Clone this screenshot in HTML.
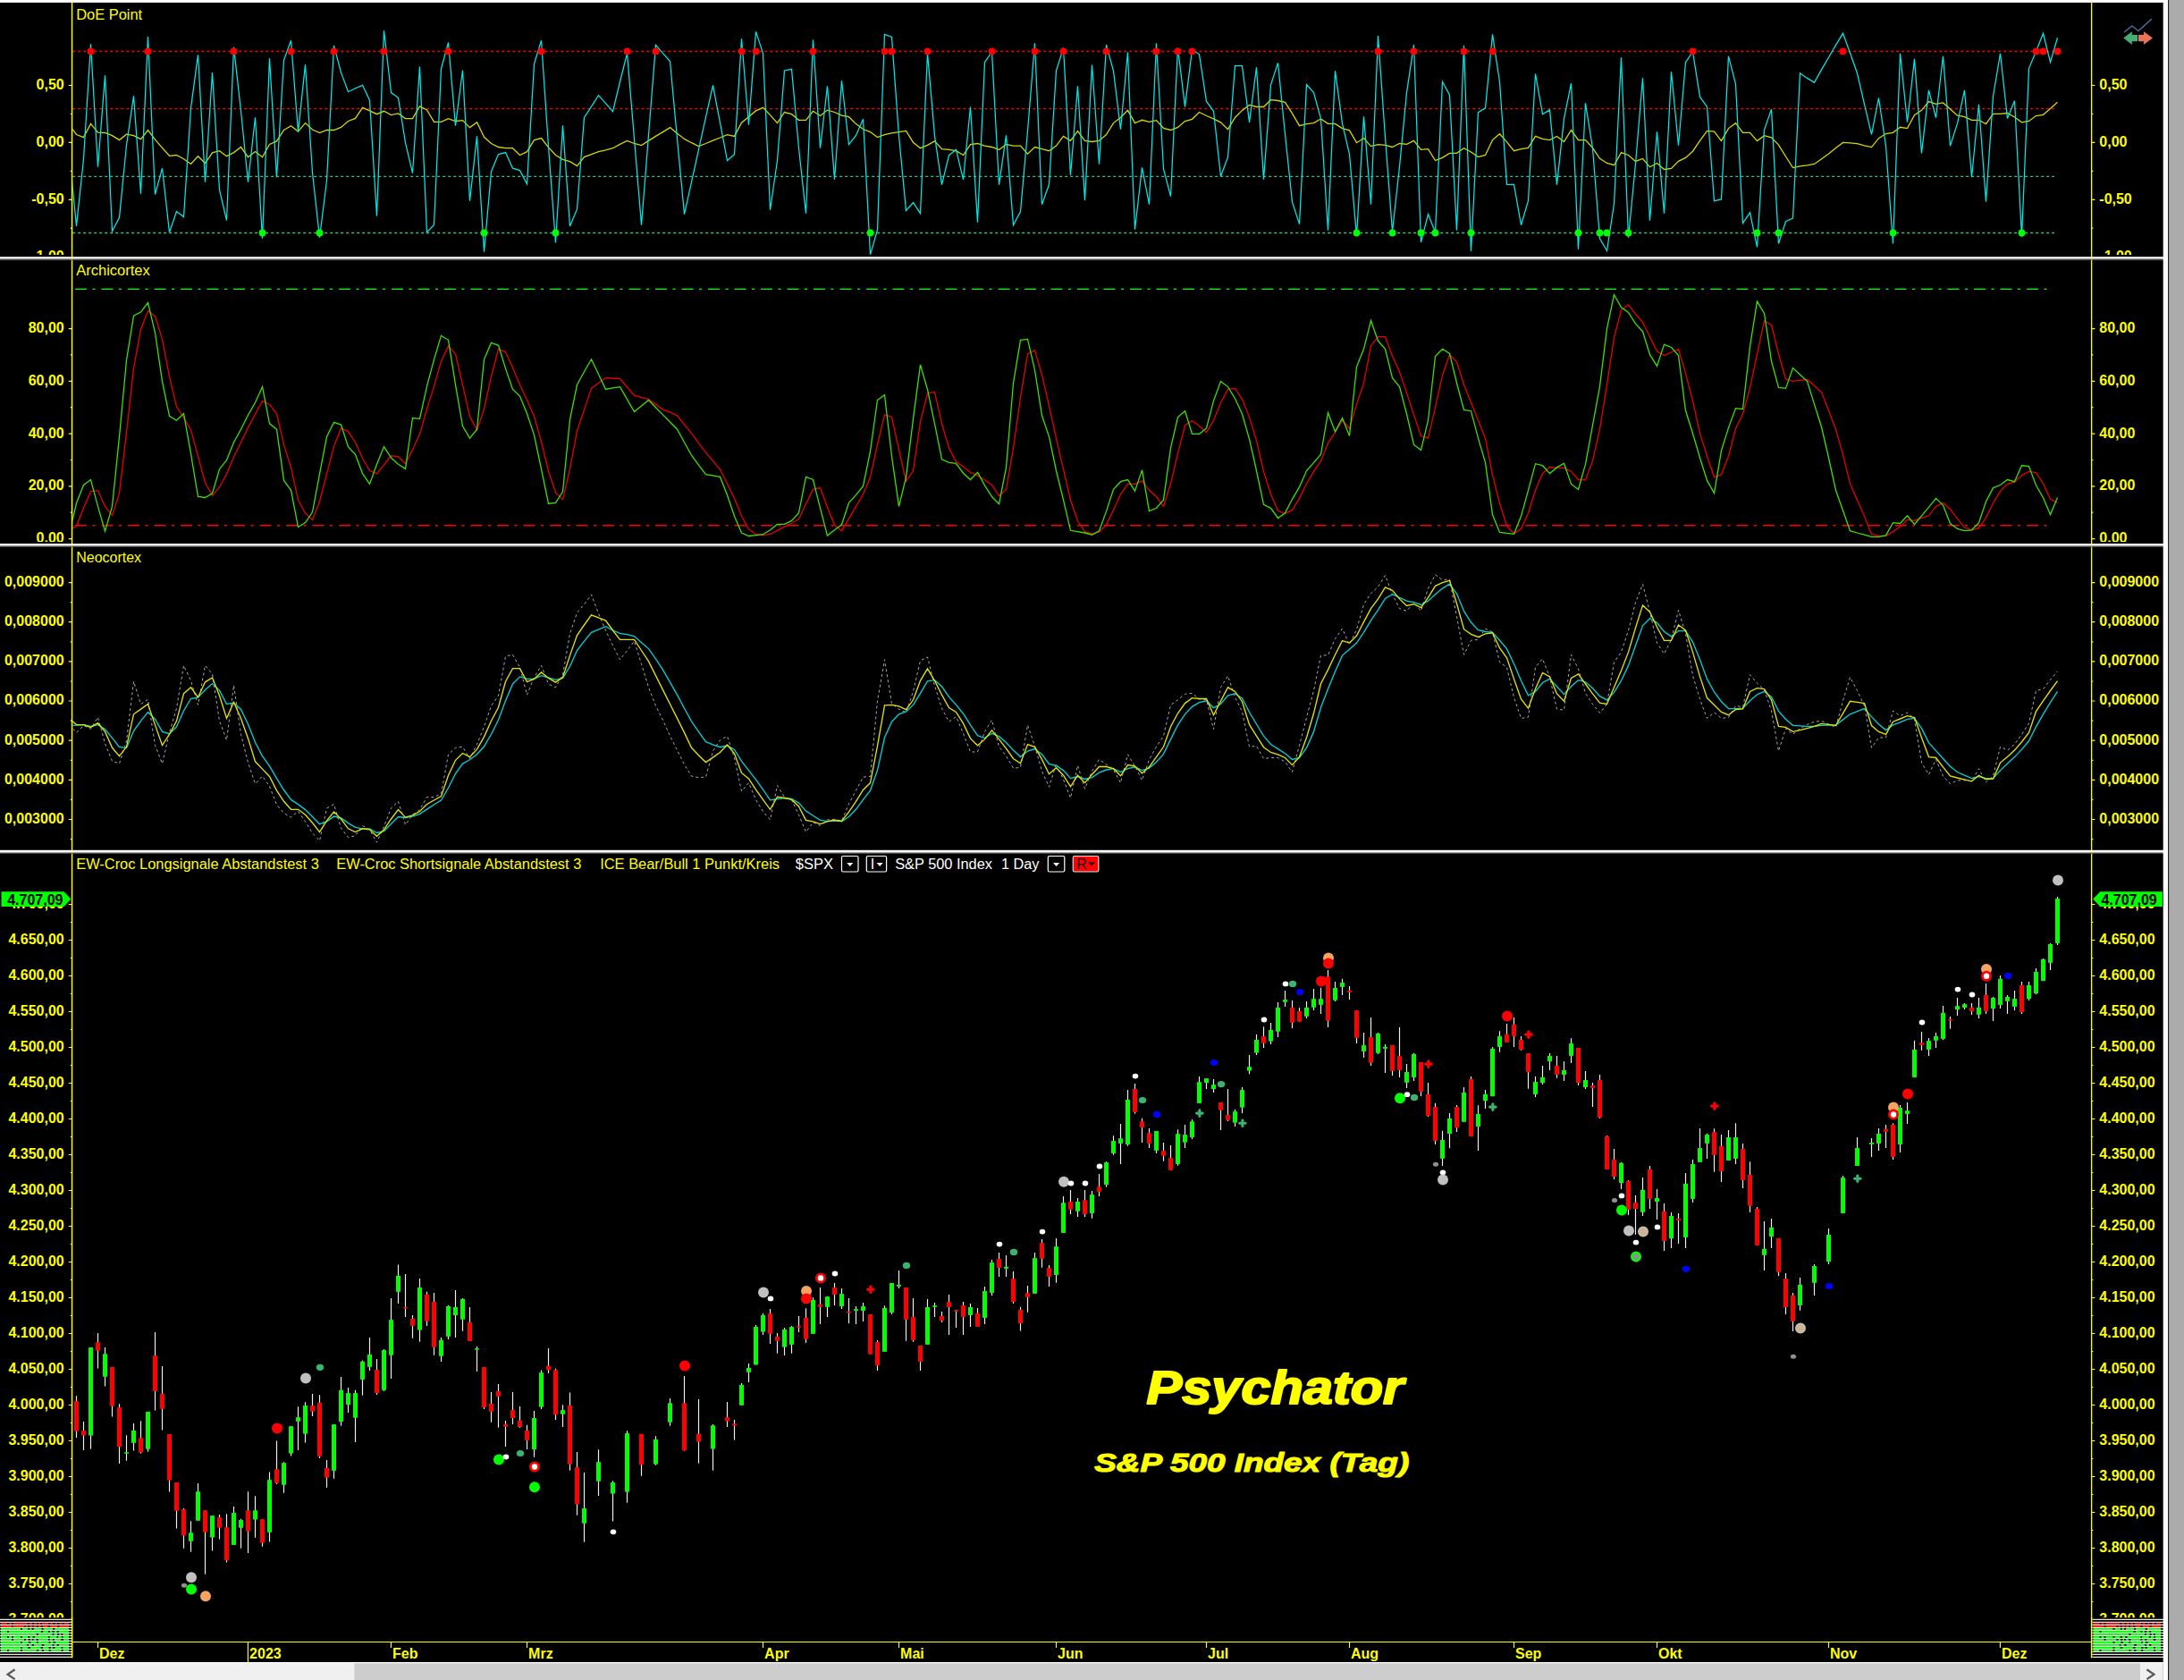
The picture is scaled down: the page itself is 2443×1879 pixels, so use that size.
<!DOCTYPE html><html><head><meta charset="utf-8"><title>Psychator S&amp;P 500 Index (Tag)</title>
<style>html,body{margin:0;padding:0;background:#000;overflow:hidden}svg{display:block}text{font-family:"Liberation Sans",Arial,sans-serif}.lb{font-weight:bold;font-size:16px;fill:#ff0}.tt{font-size:16px;fill:#ff0}.wt{font-size:16px;fill:#fff}.ax{stroke:#ff0;stroke-width:1.3;fill:none}.tk{stroke:#ff0;stroke-width:1.2;fill:none}</style></head><body>
<svg width="2443" height="1879" viewBox="0 0 2443 1879">
<rect x="0" y="0" width="2443" height="1879" fill="#000"/>
<defs>
<clipPath id="c1"><rect x="81.2" y="3" width="2258.0" height="284"/></clipPath>
<clipPath id="c2"><rect x="81.2" y="290.5" width="2258.0" height="317.5"/></clipPath>
<clipPath id="c3"><rect x="81.2" y="611.5" width="2258.0" height="339.5"/></clipPath>
<clipPath id="c4"><rect x="81.2" y="954.5" width="2258.0" height="881.5"/></clipPath>
<clipPath id="l1"><rect x="0" y="3" width="2420" height="281.9"/></clipPath>
<clipPath id="l2"><rect x="0" y="290.5" width="2420" height="315.5"/></clipPath>
<clipPath id="l3"><rect x="0" y="611.5" width="2420" height="337.29999999999995"/></clipPath>
<clipPath id="l4"><rect x="0" y="954.5" width="2420" height="854.8"/></clipPath>
</defs>
<path d="M81.2 57.5H2298M81.2 121.6H2298" stroke="#f00" stroke-width="1.4" stroke-dasharray="3 3" fill="none"/>
<path d="M81.2 197.4H2298M81.2 260.5H2298" stroke="#3fc07a" stroke-width="1.4" stroke-dasharray="3 3" fill="none"/>
<polyline clip-path="url(#c1)" points="77.5,139.8 85.5,150.5 93.5,153.6 101.5,138.4 109.5,148.1 117.5,148.5 125.5,151.6 133.5,156.6 141.5,150.2 149.5,151.6 157.5,155.7 165.5,145.5 173.5,156.2 181.5,165.4 189.5,174.3 197.5,173.5 205.5,177.8 213.5,183.5 221.5,174.7 229.5,182.5 237.5,170.9 245.5,168.7 253.5,174.7 261.5,170.6 269.5,164.5 277.5,175.7 285.5,169.5 293.5,175.7 301.5,161.4 309.5,157.9 317.5,145.5 325.5,140.7 333.5,147.1 341.5,137.6 349.5,145 357.5,148.5 365.5,145.5 373.5,145.5 381.5,142.4 389.5,135.5 397.5,132.4 405.5,120.3 413.5,123.9 421.5,127.7 429.5,124.3 437.5,128.6 445.5,126.9 453.5,132.6 461.5,132.6 469.5,118.8 477.5,122.9 485.5,136.4 493.5,136.4 501.5,132.6 509.5,135.5 517.5,134.6 525.5,142.6 533.5,136.7 541.5,153.3 549.5,160.5 557.5,164.5 565.5,165.7 573.5,165.7 581.5,173.5 589.5,169.7 597.5,156.6 605.5,154.5 613.5,164.9 621.5,173.5 629.5,178.3 637.5,180.7 645.5,185.6 653.5,175.6 661.5,172.6 669.5,169.7 677.5,167.8 685.5,165.7 693.5,161.4 701.5,157.4 709.5,160.5 717.5,162.6 725.5,157.4 733.5,152.4 741.5,147.6 749.5,142.6 757.5,149.3 765.5,155.4 773.5,159.7 781.5,163.6 789.5,160.5 797.5,157.1 805.5,154 813.5,150.7 821.5,152.4 829.5,137.2 837.5,130.7 845.5,123.9 853.5,120.3 861.5,128.6 869.5,137.6 877.5,125.5 885.5,127.7 893.5,134.3 901.5,134.3 909.5,124.3 917.5,129.5 925.5,123.1 933.5,125.5 941.5,129.1 949.5,130.7 957.5,138.6 965.5,144.5 973.5,147.6 981.5,153.6 989.5,150.7 997.5,148.8 1005.5,147.6 1013.5,146.4 1021.5,159.2 1029.5,165.7 1037.5,162.3 1045.5,157.9 1053.5,166.6 1061.5,167.4 1069.5,168.7 1077.5,173.5 1085.5,161.7 1093.5,160.5 1101.5,163.1 1109.5,164.5 1117.5,167.4 1125.5,161.4 1133.5,163.1 1141.5,163.1 1149.5,172.1 1157.5,164.5 1165.5,166.6 1173.5,168.7 1181.5,163.1 1189.5,152.4 1197.5,157.4 1205.5,146.7 1213.5,157.4 1221.5,158.5 1229.5,157.4 1237.5,150.5 1245.5,137.6 1253.5,131.5 1261.5,123.4 1269.5,137.6 1277.5,134.3 1285.5,136.4 1293.5,134.6 1301.5,143.3 1309.5,145.5 1317.5,142.4 1325.5,135.5 1333.5,133.3 1341.5,125.5 1349.5,129.5 1357.5,132.9 1365.5,136.9 1373.5,144.7 1381.5,131.5 1389.5,123.4 1397.5,117.4 1405.5,119.5 1413.5,119.5 1421.5,111.7 1429.5,112.5 1437.5,114.3 1445.5,126.9 1453.5,140.7 1461.5,138.6 1469.5,137.6 1477.5,132.9 1485.5,138.4 1493.5,138.4 1501.5,143.6 1509.5,145.9 1517.5,159.7 1525.5,154.5 1533.5,163.6 1541.5,161.7 1549.5,162.3 1557.5,164.5 1565.5,160.5 1573.5,161.4 1581.5,157.4 1589.5,167.4 1597.5,166.6 1605.5,179.5 1613.5,176.4 1621.5,171.4 1629.5,171.4 1637.5,165.7 1645.5,170 1653.5,175.6 1661.5,173.5 1669.5,156.6 1677.5,149.7 1685.5,158.8 1693.5,168.7 1701.5,166.6 1709.5,165.4 1717.5,152.4 1725.5,155.4 1733.5,156.6 1741.5,152.4 1749.5,158.5 1757.5,145.5 1765.5,156.6 1773.5,156.6 1781.5,165.4 1789.5,177.3 1797.5,182.5 1805.5,184.7 1813.5,170.6 1821.5,173.5 1829.5,180.4 1837.5,177.5 1845.5,186.8 1853.5,182.5 1861.5,189.5 1869.5,188.5 1877.5,180.4 1885.5,176.4 1893.5,169.2 1901.5,157.4 1909.5,146.4 1917.5,147.2 1925.5,157.6 1933.5,143.6 1941.5,137.7 1949.5,148.4 1957.5,148.4 1965.5,157.6 1973.5,151.7 1981.5,153.8 1989.5,162.1 1997.5,175 2005.5,187.6 2013.5,185.8 2021.5,184.9 2029.5,183.5 2037.5,177.7 2045.5,172 2053.5,165.5 2061.5,159.4 2069.5,159.8 2077.5,160.7 2085.5,162.8 2093.5,164.6 2101.5,154.7 2109.5,149.5 2117.5,148.3 2125.5,142.3 2133.5,143.6 2141.5,128.7 2149.5,123.3 2157.5,113.6 2165.5,116.3 2173.5,114.9 2181.5,122.1 2189.5,129.2 2197.5,130.7 2205.5,134.3 2213.5,134.3 2221.5,138.6 2229.5,127.4 2237.5,127.4 2245.5,126.5 2253.5,131 2261.5,136.8 2269.5,135.5 2277.5,129.6 2285.5,128.3 2293.5,121.5 2301.5,114.3" fill="none" stroke="#d6d600" stroke-width="1.3" stroke-linejoin="miter" />
<polyline clip-path="url(#c1)" points="77.5,172.1 85.5,252.9 93.5,177.8 101.5,49.2 109.5,186.8 117.5,84.2 125.5,258.6 133.5,243.4 141.5,162.3 149.5,107.4 157.5,216.6 165.5,41.1 173.5,217.5 181.5,188.2 189.5,259.8 197.5,236.5 205.5,242.5 213.5,120.8 221.5,61.3 229.5,203.7 237.5,81.1 245.5,212.3 253.5,246.5 261.5,52.6 269.5,124.3 277.5,203.7 285.5,131.2 293.5,266.7 301.5,65.3 309.5,198.5 317.5,67.3 325.5,45.2 333.5,147.6 341.5,72.2 349.5,193.3 357.5,265.8 365.5,202 373.5,50.9 381.5,81.1 389.5,102.7 397.5,98.7 405.5,95.3 413.5,112.2 421.5,241.7 429.5,34.2 437.5,103.6 445.5,109.3 453.5,159.7 461.5,193.7 469.5,74.6 477.5,259.8 485.5,251.5 493.5,76.8 501.5,47.5 509.5,140.7 517.5,78.5 525.5,224.8 533.5,152.4 541.5,281.7 549.5,192 557.5,172.6 565.5,170.6 573.5,188.2 581.5,190.6 589.5,205.8 597.5,71.6 605.5,45.2 613.5,164 621.5,271.5 629.5,140.2 637.5,252.9 645.5,233.9 653.5,131.5 661.5,119.1 669.5,106.7 677.5,115.7 685.5,124.6 693.5,91.5 701.5,59.6 709.5,155.4 717.5,251.7 725.5,151 733.5,50.4 741.5,59.6 749.5,68.5 757.5,155.4 765.5,239.6 773.5,203.7 781.5,167.4 789.5,131.2 797.5,95.3 805.5,137.4 813.5,179.5 821.5,172.6 829.5,43.2 837.5,139.8 845.5,35.4 853.5,59.6 861.5,234.8 869.5,179.5 877.5,78.9 885.5,77.3 893.5,165.7 901.5,238.7 909.5,44.5 917.5,165.7 925.5,96.3 933.5,200.8 941.5,90.3 949.5,161.7 957.5,151.4 965.5,133.3 973.5,284.8 981.5,257.2 989.5,38.3 997.5,41.4 1005.5,151.9 1013.5,235.6 1021.5,226.5 1029.5,238.7 1037.5,59.6 1045.5,151.9 1053.5,206.6 1061.5,173.5 1069.5,167.4 1077.5,200.8 1085.5,119.5 1093.5,248.6 1101.5,69.6 1109.5,57.8 1117.5,206.6 1125.5,151.4 1133.5,251.7 1141.5,236.5 1149.5,146.7 1157.5,48.3 1165.5,228.7 1173.5,206.3 1181.5,79.1 1189.5,53.5 1197.5,195.9 1205.5,96.3 1213.5,224.1 1221.5,72.5 1229.5,183.8 1237.5,50.1 1245.5,79.4 1253.5,144.7 1261.5,58.3 1269.5,256.7 1277.5,187.3 1285.5,228.7 1293.5,48.3 1301.5,189 1309.5,219.7 1317.5,53.5 1325.5,119.6 1333.5,55.2 1341.5,60.8 1349.5,113.4 1357.5,124.3 1365.5,197.3 1373.5,175.6 1381.5,73.7 1389.5,73.7 1397.5,136.9 1405.5,75.4 1413.5,200.6 1421.5,94.9 1429.5,70.4 1437.5,150.2 1445.5,226.1 1453.5,250.6 1461.5,94.6 1469.5,103.6 1477.5,132.9 1485.5,257.7 1493.5,79.4 1501.5,138.1 1509.5,172.6 1517.5,264.1 1525.5,130.3 1533.5,228.7 1541.5,40 1549.5,153.6 1557.5,258.9 1565.5,186.4 1573.5,103.6 1581.5,50.1 1589.5,271 1597.5,239.6 1605.5,259.8 1613.5,91.5 1621.5,106.2 1629.5,257.7 1637.5,50.9 1645.5,281 1653.5,125.7 1661.5,120.8 1669.5,38.3 1677.5,91.5 1685.5,206.3 1693.5,206.3 1701.5,251.7 1709.5,224.4 1717.5,82.5 1725.5,127.7 1733.5,122.9 1741.5,206.6 1749.5,132.9 1757.5,93.2 1765.5,278.8 1773.5,115.3 1781.5,165.7 1789.5,266.7 1797.5,280.5 1805.5,227.9 1813.5,64.2 1821.5,265.8 1829.5,183 1837.5,87.2 1845.5,246.8 1853.5,147.2 1861.5,238.7 1869.5,80.3 1877.5,162.8 1885.5,69.6 1893.5,57.8 1901.5,108.4 1909.5,119.5 1917.5,224.7 1925.5,222.9 1933.5,62.8 1941.5,94.2 1949.5,249.5 1957.5,237.8 1965.5,276.4 1973.5,145.4 1981.5,122.1 1989.5,272.5 1997.5,247.7 2005.5,244.1 2013.5,82 2021.5,87.4 2029.5,92.4 2037.5,77.9 2045.5,64.3 2053.5,50.4 2061.5,37.3 2069.5,59.2 2077.5,82 2085.5,116.7 2093.5,150.4 2101.5,109.5 2109.5,163.3 2117.5,272.5 2125.5,59.8 2133.5,136.8 2141.5,65.9 2149.5,171.4 2157.5,100.9 2165.5,131.6 2173.5,62.8 2181.5,163.3 2189.5,138.2 2197.5,100.9 2205.5,198.3 2213.5,116.7 2221.5,225.6 2229.5,107.7 2237.5,59.8 2245.5,132.5 2253.5,112.7 2261.5,264.8 2269.5,76.6 2277.5,57.4 2285.5,37.3 2293.5,69.6 2301.5,42.2" fill="none" stroke="#00e8e8" stroke-width="1.25" stroke-linejoin="miter" />
<g fill="#f00"><circle cx="101.5" cy="57.5" r="3.9"/><circle cx="165.5" cy="57.5" r="3.9"/><circle cx="261.5" cy="57.5" r="3.9"/><circle cx="325.5" cy="57.5" r="3.9"/><circle cx="373.5" cy="57.5" r="3.9"/><circle cx="429.5" cy="57.5" r="3.9"/><circle cx="501.5" cy="57.5" r="3.9"/><circle cx="605.5" cy="57.5" r="3.9"/><circle cx="701.5" cy="57.5" r="3.9"/><circle cx="733.5" cy="57.5" r="3.9"/><circle cx="829.5" cy="57.5" r="3.9"/><circle cx="845.5" cy="57.5" r="3.9"/><circle cx="909.5" cy="57.5" r="3.9"/><circle cx="989.5" cy="57.5" r="3.9"/><circle cx="997.5" cy="57.5" r="3.9"/><circle cx="1037.5" cy="57.5" r="3.9"/><circle cx="1109.5" cy="57.5" r="3.9"/><circle cx="1157.5" cy="57.5" r="3.9"/><circle cx="1189.5" cy="57.5" r="3.9"/><circle cx="1237.5" cy="57.5" r="3.9"/><circle cx="1293.5" cy="57.5" r="3.9"/><circle cx="1317.5" cy="57.5" r="3.9"/><circle cx="1333.5" cy="57.5" r="3.9"/><circle cx="1541.5" cy="57.5" r="3.9"/><circle cx="1581.5" cy="57.5" r="3.9"/><circle cx="1637.5" cy="57.5" r="3.9"/><circle cx="1669.5" cy="57.5" r="3.9"/><circle cx="1893.5" cy="57.5" r="3.9"/><circle cx="2061.5" cy="57.5" r="3.9"/><circle cx="2277.5" cy="57.5" r="3.9"/><circle cx="2285.5" cy="57.5" r="3.9"/><circle cx="2301.5" cy="57.5" r="3.9"/></g>
<g fill="#0f0"><circle cx="293.5" cy="260.5" r="3.9"/><circle cx="357.5" cy="260.5" r="3.9"/><circle cx="541.5" cy="260.5" r="3.9"/><circle cx="621.5" cy="260.5" r="3.9"/><circle cx="973.5" cy="260.5" r="3.9"/><circle cx="1517.5" cy="260.5" r="3.9"/><circle cx="1557.5" cy="260.5" r="3.9"/><circle cx="1589.5" cy="260.5" r="3.9"/><circle cx="1605.5" cy="260.5" r="3.9"/><circle cx="1645.5" cy="260.5" r="3.9"/><circle cx="1765.5" cy="260.5" r="3.9"/><circle cx="1789.5" cy="260.5" r="3.9"/><circle cx="1797.5" cy="260.5" r="3.9"/><circle cx="1821.5" cy="260.5" r="3.9"/><circle cx="1965.5" cy="260.5" r="3.9"/><circle cx="1989.5" cy="260.5" r="3.9"/><circle cx="2117.5" cy="260.5" r="3.9"/><circle cx="2261.5" cy="260.5" r="3.9"/></g>
<g clip-path="url(#l1)">
<text class="lb" x="71.7" y="99.9" text-anchor="end">0,50</text>
<text class="lb" x="2348.3" y="99.9">0,50</text>
<text class="lb" x="71.7" y="163.8" text-anchor="end">0,00</text>
<text class="lb" x="2348.3" y="163.8">0,00</text>
<text class="lb" x="71.7" y="227.7" text-anchor="end">-0,50</text>
<text class="lb" x="2348.3" y="227.7">-0,50</text>
<text class="lb" x="71.7" y="291.6" text-anchor="end">-1,00</text>
<text class="lb" x="2348.3" y="291.6">-1,00</text>
</g>
<g clip-path="url(#l1)">
<path class="tk" d="M76.8 95.5H80.6M2339.9 95.5H2343.4M76.8 159.4H80.6M2339.9 159.4H2343.4M76.8 223.3H80.6M2339.9 223.3H2343.4M76.8 287.2H80.6M2339.9 287.2H2343.4M78.8 127.5H80.6M2339.9 127.5H2341.4M78.8 191.3H80.6M2339.9 191.3H2341.4M78.8 255.2H80.6M2339.9 255.2H2341.4"/></g>
<text class="tt" x="85.2" y="21.6" textLength="74" lengthAdjust="spacingAndGlyphs">DoE Point</text>
<path d="M84 323.4H2295" stroke="#0f0" stroke-width="1.4" stroke-dasharray="13 6.5 3 7" fill="none"/>
<path d="M84 587.8H2295" stroke="#f00" stroke-width="1.4" stroke-dasharray="13 6.5 3 7" fill="none"/>
<polyline clip-path="url(#c2)" points="77.5,592.8 85.5,588.2 93.5,568.3 101.5,549.7 109.5,548.6 117.5,566.4 125.5,576.4 133.5,551.9 141.5,483.8 149.5,412.1 157.5,368.5 165.5,347.7 173.5,353.7 181.5,379.4 189.5,421.2 197.5,454.8 205.5,467.1 213.5,480.7 221.5,510.2 229.5,540.1 237.5,554.1 245.5,544.7 253.5,530.1 261.5,511.1 269.5,494.7 277.5,478.4 285.5,463.3 293.5,448.4 301.5,452.4 309.5,462.6 317.5,497.4 325.5,522.9 333.5,559.2 341.5,574.2 349.5,581.3 357.5,561 365.5,530.1 373.5,499.3 381.5,478.9 389.5,482.6 397.5,494.7 405.5,512.5 413.5,526.5 421.5,529.6 429.5,519.8 437.5,509.8 445.5,510.7 453.5,518.7 461.5,502.9 469.5,485.6 477.5,457.5 485.5,432.1 493.5,403.9 501.5,387.1 509.5,395.8 517.5,430.3 525.5,465.7 533.5,481.1 541.5,457.5 549.5,421.2 557.5,390.7 565.5,393.6 573.5,411.2 581.5,430.3 589.5,447.5 597.5,465.7 605.5,493.8 613.5,526.9 621.5,551 629.5,558.6 637.5,524.7 645.5,482 653.5,458.4 661.5,434.4 669.5,428.5 677.5,422.6 685.5,423 693.5,423.6 701.5,433 709.5,442.4 717.5,444.4 725.5,446.6 733.5,452.4 741.5,458.1 749.5,461.1 757.5,464.8 765.5,474.8 773.5,484.7 781.5,495.6 789.5,506.2 797.5,515.6 805.5,525 813.5,541 821.5,557.4 829.5,577.3 837.5,591.9 845.5,597.7 853.5,598.6 861.5,597.3 869.5,593.3 877.5,589.1 885.5,585 893.5,580.6 901.5,563.7 909.5,547.4 917.5,545.6 925.5,567.3 933.5,587.3 941.5,593.7 949.5,580.1 957.5,566.4 965.5,552.8 973.5,533.8 981.5,497.4 989.5,463.9 997.5,466.6 1005.5,502.9 1013.5,538.3 1021.5,526.5 1029.5,472 1037.5,439.7 1045.5,438.4 1053.5,473.8 1061.5,501.1 1069.5,516.5 1077.5,522 1085.5,528.3 1093.5,531.6 1101.5,537 1109.5,542.5 1117.5,554.6 1125.5,547.4 1133.5,501.1 1141.5,444.8 1149.5,395.8 1157.5,391.6 1165.5,419.4 1173.5,453.9 1181.5,490.2 1189.5,524.7 1197.5,559.2 1205.5,582.8 1213.5,594.6 1221.5,596.8 1229.5,595.1 1237.5,586.8 1245.5,570.4 1253.5,552.8 1261.5,541.4 1269.5,541.4 1277.5,537.8 1285.5,548.3 1293.5,555.5 1301.5,566.4 1309.5,541 1317.5,507.4 1325.5,475.7 1333.5,470.6 1341.5,476.6 1349.5,483.5 1357.5,470.2 1365.5,450.2 1373.5,435.4 1381.5,434.4 1389.5,446.6 1397.5,466.6 1405.5,492.9 1413.5,527.4 1421.5,552.8 1429.5,571.3 1437.5,574.6 1445.5,570.4 1453.5,557.4 1461.5,541 1469.5,527.4 1477.5,515.6 1485.5,495.6 1493.5,483.5 1501.5,470.2 1509.5,479.3 1517.5,452.1 1525.5,428.5 1533.5,386.7 1541.5,376.7 1549.5,376.7 1557.5,398.5 1565.5,415.7 1573.5,439.4 1581.5,463.9 1589.5,487.5 1597.5,490.2 1605.5,455.7 1613.5,419.7 1621.5,396.7 1629.5,404.9 1637.5,430.3 1645.5,450.2 1653.5,470.2 1661.5,490.2 1669.5,531 1677.5,562.8 1685.5,588.2 1693.5,596.8 1701.5,591.5 1709.5,573.7 1717.5,548.3 1725.5,529.6 1733.5,522.3 1741.5,523.4 1749.5,523.4 1757.5,527.4 1765.5,536.5 1773.5,536.5 1781.5,515.6 1789.5,480.2 1797.5,430.3 1805.5,377.6 1813.5,346.8 1821.5,340.8 1829.5,351.3 1837.5,360.4 1845.5,376.7 1853.5,392.7 1861.5,397.6 1869.5,394 1877.5,390.7 1885.5,417.6 1893.5,448.4 1901.5,484.7 1909.5,510.2 1917.5,533.8 1925.5,530.7 1933.5,510.2 1941.5,479.3 1949.5,463 1957.5,433.9 1965.5,395.8 1973.5,358.9 1981.5,363.5 1989.5,395.8 1997.5,423.9 2005.5,426.3 2013.5,425.4 2021.5,424.5 2029.5,431.5 2037.5,438.8 2045.5,459.3 2053.5,480.2 2061.5,508.3 2069.5,541 2077.5,559.2 2085.5,577.3 2093.5,597.7 2101.5,599.1 2109.5,599.5 2117.5,594.6 2125.5,589.1 2133.5,581.3 2141.5,582.4 2149.5,579.1 2157.5,576.8 2165.5,566.4 2173.5,562.3 2181.5,569.7 2189.5,580.1 2197.5,590 2205.5,592.8 2213.5,590.4 2221.5,579.1 2229.5,562.8 2237.5,549.2 2245.5,541.4 2253.5,539.2 2261.5,531.6 2269.5,527.4 2277.5,528.7 2285.5,541 2293.5,558.3 2301.5,562.3" fill="none" stroke="#e60000" stroke-width="1.3" stroke-linejoin="miter" />
<polyline clip-path="url(#c2)" points="77.5,597.3 85.5,562.8 93.5,542.5 101.5,536.5 109.5,566.4 117.5,594.2 125.5,566.4 133.5,488.4 141.5,403 149.5,353.1 157.5,349.1 165.5,338.6 173.5,372.2 181.5,426.6 189.5,465.3 197.5,470.2 205.5,462.6 213.5,507.4 221.5,555.5 229.5,556.5 237.5,551.9 245.5,524.7 253.5,514.7 261.5,494.7 269.5,480.2 277.5,464.2 285.5,450.2 293.5,432.6 301.5,473.8 309.5,480.2 317.5,537.4 325.5,548.3 333.5,589.5 341.5,584.6 349.5,572.8 357.5,530.1 365.5,488.4 373.5,472.4 381.5,475.1 389.5,499.6 397.5,508.3 405.5,529.6 413.5,541.4 421.5,519.2 429.5,499.6 437.5,512 445.5,519.2 453.5,524.3 461.5,467.5 469.5,468.4 477.5,432.1 485.5,402.1 493.5,375.4 501.5,380.3 509.5,430.3 517.5,476.6 525.5,490.2 533.5,480.2 541.5,402.1 549.5,383.4 557.5,386.3 565.5,412.1 573.5,435.4 581.5,443 589.5,462.6 597.5,486.6 605.5,524.7 613.5,563.2 621.5,562.4 629.5,550.1 637.5,469.3 645.5,430.3 653.5,415.7 661.5,401.8 669.5,418.5 677.5,435.4 685.5,433.9 693.5,432.6 701.5,446.6 709.5,460.6 717.5,453.9 725.5,447.5 733.5,455.7 741.5,463.9 749.5,472 757.5,480.2 765.5,494.7 773.5,509.2 781.5,520.1 789.5,530.7 797.5,531.9 805.5,533.4 813.5,553.7 821.5,577.3 829.5,596 837.5,599.5 845.5,598.6 853.5,597.7 861.5,592.8 869.5,586.4 877.5,586.4 885.5,582.4 893.5,573.7 901.5,533.4 909.5,536.5 917.5,568.3 925.5,599.1 933.5,592.8 941.5,586.8 949.5,562.4 957.5,553.7 965.5,543.7 973.5,504.7 981.5,447.5 989.5,441.7 997.5,510.2 1005.5,566.4 1013.5,533.8 1021.5,468.4 1029.5,407.9 1037.5,435.7 1045.5,473.8 1053.5,513.8 1061.5,517.4 1069.5,518.3 1077.5,529.2 1085.5,536.5 1093.5,528.3 1101.5,542.8 1109.5,555.5 1117.5,563.7 1125.5,522.9 1133.5,428.5 1141.5,380.3 1149.5,379.4 1157.5,413.9 1165.5,464.8 1173.5,488.4 1181.5,526.5 1189.5,559.2 1197.5,593.3 1205.5,594.6 1213.5,596 1221.5,598.2 1229.5,593.7 1237.5,571.9 1245.5,547.4 1253.5,538.7 1261.5,536.5 1269.5,549.2 1277.5,525.6 1285.5,571.5 1293.5,568.3 1301.5,559.2 1309.5,501.1 1317.5,466.6 1325.5,459.7 1333.5,485.3 1341.5,485.3 1349.5,478.9 1357.5,448.4 1365.5,426.6 1373.5,432.6 1381.5,445.7 1389.5,463 1397.5,491.1 1405.5,526.5 1413.5,564.3 1421.5,568.3 1429.5,579.5 1437.5,573.7 1445.5,558.3 1453.5,544.7 1461.5,526.5 1469.5,517.4 1477.5,508.3 1485.5,461.5 1493.5,482.9 1501.5,467.5 1509.5,487.5 1517.5,410.3 1525.5,390.3 1533.5,358.6 1541.5,381.3 1549.5,390.3 1557.5,422.6 1565.5,432.6 1573.5,463 1581.5,497.4 1589.5,503.3 1597.5,470.2 1605.5,398.5 1613.5,390.3 1621.5,395.4 1629.5,428.5 1637.5,458.4 1645.5,459.7 1653.5,490.2 1661.5,517.4 1669.5,575.5 1677.5,595.5 1685.5,596.4 1693.5,597.3 1701.5,577.3 1709.5,548.3 1717.5,518.7 1725.5,520.7 1733.5,529.6 1741.5,522.9 1749.5,518.3 1757.5,541.4 1765.5,547.4 1773.5,519.2 1781.5,475.7 1789.5,432.1 1797.5,367.6 1805.5,329.5 1813.5,343.7 1821.5,349.5 1829.5,362.2 1837.5,370.7 1845.5,396.7 1853.5,409.4 1861.5,385.4 1869.5,388.5 1877.5,397.6 1885.5,459.3 1893.5,484.7 1901.5,512 1909.5,537.4 1917.5,551.6 1925.5,503.8 1933.5,478.4 1941.5,456.6 1949.5,457.5 1957.5,387.6 1965.5,337.1 1973.5,350.4 1981.5,403.9 1989.5,433.5 1997.5,434.4 2005.5,411.6 2013.5,419 2021.5,426.3 2029.5,452.1 2037.5,477.5 2045.5,512 2053.5,548.3 2061.5,571 2069.5,593.7 2077.5,596 2085.5,598.2 2093.5,600.4 2101.5,600.4 2109.5,598.8 2117.5,584.6 2125.5,585.5 2133.5,576.8 2141.5,586.4 2149.5,576.8 2157.5,567.3 2165.5,557.4 2173.5,565 2181.5,585.5 2189.5,591.5 2197.5,593.7 2205.5,592.8 2213.5,584.6 2221.5,561 2229.5,545.6 2237.5,542.5 2245.5,536.5 2253.5,538.7 2261.5,520.5 2269.5,521.6 2277.5,542.8 2285.5,556.8 2293.5,575.5 2301.5,556.5" fill="none" stroke="#3ee000" stroke-width="1.3" stroke-linejoin="miter" />
<g clip-path="url(#l2)">
<text class="lb" x="71.7" y="372" text-anchor="end">80,00</text>
<text class="lb" x="2348.3" y="372">80,00</text>
<text class="lb" x="71.7" y="430.7" text-anchor="end">60,00</text>
<text class="lb" x="2348.3" y="430.7">60,00</text>
<text class="lb" x="71.7" y="489.5" text-anchor="end">40,00</text>
<text class="lb" x="2348.3" y="489.5">40,00</text>
<text class="lb" x="71.7" y="548.2" text-anchor="end">20,00</text>
<text class="lb" x="2348.3" y="548.2">20,00</text>
<text class="lb" x="71.7" y="607" text-anchor="end">0,00</text>
<text class="lb" x="2348.3" y="607">0,00</text>
</g>
<g clip-path="url(#l2)">
<path class="tk" d="M76.8 367.6H80.6M2339.9 367.6H2343.4M76.8 426.3H80.6M2339.9 426.3H2343.4M76.8 485.1H80.6M2339.9 485.1H2343.4M76.8 543.8H80.6M2339.9 543.8H2343.4M76.8 602.6H80.6M2339.9 602.6H2343.4M78.8 396.9H80.6M2339.9 396.9H2341.4M78.8 455.7H80.6M2339.9 455.7H2341.4M78.8 514.5H80.6M2339.9 514.5H2341.4M78.8 573.2H80.6M2339.9 573.2H2341.4"/></g>
<text class="tt" x="85.2" y="307.9" textLength="82.6" lengthAdjust="spacingAndGlyphs">Archicortex</text>
<polyline clip-path="url(#c3)" points="77.5,810.9 85.5,819.4 93.5,811.5 101.5,815.3 109.5,802.1 117.5,831.6 125.5,851.3 133.5,854.1 141.5,828.8 149.5,762.2 157.5,787.5 165.5,782.3 173.5,833.5 181.5,854.1 189.5,819.4 197.5,792.2 205.5,744.4 213.5,761.3 221.5,788.4 229.5,744.4 237.5,753.8 245.5,806.3 253.5,827.8 261.5,766.5 269.5,821.3 277.5,853.1 285.5,876.6 293.5,868.1 301.5,879.4 309.5,900 317.5,909.4 325.5,914.1 333.5,907.5 341.5,918.8 349.5,931.9 357.5,940.3 365.5,904.1 373.5,899.5 381.5,926.3 389.5,936.6 397.5,934.7 405.5,923.5 413.5,928.1 421.5,942.2 429.5,924.4 437.5,903.8 445.5,896.3 453.5,922.5 461.5,911.3 469.5,905.6 477.5,891.6 485.5,891.6 493.5,887.8 501.5,843.8 509.5,836.3 517.5,835.3 525.5,848.5 533.5,832.5 541.5,812.8 549.5,789.4 557.5,778.1 565.5,734.1 573.5,732.2 581.5,746.3 589.5,777.2 597.5,757.5 605.5,744.4 613.5,765 621.5,768.8 629.5,754.7 637.5,708.8 645.5,685.3 653.5,675.9 661.5,665.1 669.5,686.3 677.5,705 685.5,721.9 693.5,737.8 701.5,727.5 709.5,717.2 717.5,742.5 725.5,768.8 733.5,789.4 741.5,805.3 749.5,823.1 757.5,839.1 765.5,855 773.5,868.1 781.5,869.6 789.5,869.1 797.5,840 805.5,827.8 813.5,823.5 821.5,847.5 829.5,885 837.5,875.6 845.5,894.4 853.5,907.5 861.5,916.9 869.5,878.5 877.5,891.6 885.5,894.4 893.5,911.3 901.5,930.6 909.5,919.7 917.5,923.5 925.5,916.9 933.5,916.3 941.5,918.2 949.5,899.1 957.5,884.1 965.5,869.1 973.5,868.5 981.5,783.8 989.5,737.8 997.5,787.1 1005.5,793.1 1013.5,796.9 1021.5,773.4 1029.5,738.8 1037.5,735 1045.5,766.9 1053.5,792.2 1061.5,807.2 1069.5,801.6 1077.5,820.3 1085.5,841 1093.5,841 1101.5,818.4 1109.5,805.3 1117.5,835.3 1125.5,845.6 1133.5,859.1 1141.5,858.4 1149.5,810.9 1157.5,834.4 1165.5,862.5 1173.5,880.3 1181.5,854.1 1189.5,871.9 1197.5,892.5 1205.5,856 1213.5,882.2 1221.5,862.5 1229.5,849.4 1237.5,855 1245.5,861 1253.5,875.6 1261.5,843.8 1269.5,856.9 1277.5,872.8 1285.5,849.4 1293.5,835.3 1301.5,823.1 1309.5,788.4 1317.5,782.8 1325.5,776.3 1333.5,775.3 1341.5,781.9 1349.5,782.8 1357.5,815.6 1365.5,768.8 1373.5,756 1381.5,780 1389.5,795.9 1397.5,835.3 1405.5,834.4 1413.5,848.5 1421.5,847.5 1429.5,847.5 1437.5,852.2 1445.5,863.5 1453.5,833.5 1461.5,802.5 1469.5,772.5 1477.5,733.1 1485.5,732.8 1493.5,714.4 1501.5,703.1 1509.5,720.9 1517.5,704.1 1525.5,675.9 1533.5,663.8 1541.5,656.3 1549.5,643.5 1557.5,664.7 1565.5,680.6 1573.5,683.4 1581.5,674.1 1589.5,683.4 1597.5,658.1 1605.5,642.8 1613.5,648.8 1621.5,647.8 1629.5,690 1637.5,732.2 1645.5,716.3 1653.5,715.3 1661.5,703.1 1669.5,706.9 1677.5,740.6 1685.5,746.3 1693.5,780 1701.5,803.4 1709.5,802.1 1717.5,746.3 1725.5,736.9 1733.5,757.5 1741.5,793.1 1749.5,794.1 1757.5,732.2 1765.5,748.1 1773.5,775.3 1781.5,787.5 1789.5,797.4 1797.5,787.5 1805.5,740.6 1813.5,729.4 1821.5,705 1829.5,674.1 1837.5,653.4 1845.5,684.4 1853.5,719.1 1861.5,731.3 1869.5,715.3 1877.5,682.5 1885.5,708.8 1893.5,755.6 1901.5,781.9 1909.5,803.4 1917.5,796.9 1925.5,803.4 1933.5,802.5 1941.5,789.4 1949.5,790.9 1957.5,754.7 1965.5,764.1 1973.5,771.6 1981.5,795 1989.5,840 1997.5,814.7 2005.5,821.3 2013.5,814.7 2021.5,810.4 2029.5,807.2 2037.5,806.3 2045.5,810 2053.5,813.4 2061.5,783.8 2069.5,757.5 2077.5,772.5 2085.5,789.4 2093.5,836.3 2101.5,825 2109.5,825 2117.5,795 2125.5,800.6 2133.5,796.9 2141.5,804.4 2149.5,853.1 2157.5,866.3 2165.5,849.4 2173.5,868.1 2181.5,876.6 2189.5,872.8 2197.5,872.8 2205.5,873.8 2213.5,859.7 2221.5,874.7 2229.5,868.1 2237.5,835.3 2245.5,839.1 2253.5,832.5 2261.5,821.3 2269.5,809.1 2277.5,772.5 2285.5,770.6 2293.5,760.3 2301.5,750.9" fill="none" stroke="#a8a8a8" stroke-width="1.0" stroke-linejoin="miter" stroke-dasharray="3 3"/>
<polyline clip-path="url(#c3)" points="77.5,811.5 85.5,811.1 93.5,810.6 101.5,812.4 109.5,810.6 117.5,815.6 125.5,825.4 133.5,835.3 141.5,836.6 149.5,817.5 157.5,806.3 165.5,796.5 173.5,804.4 181.5,818.4 189.5,820.7 197.5,812.8 205.5,795 213.5,781.5 221.5,780 229.5,771.6 237.5,764.6 245.5,772.1 253.5,787.5 261.5,786 269.5,793.5 277.5,810 285.5,830.3 293.5,845.6 301.5,856.9 309.5,870.6 317.5,883.5 325.5,894.4 333.5,899.6 341.5,905.6 349.5,913.5 357.5,921.6 365.5,918.8 373.5,913.1 381.5,915 389.5,920.6 397.5,925.3 405.5,926.8 413.5,926.8 421.5,931.5 429.5,929.6 437.5,921.6 445.5,913.5 453.5,914.5 461.5,913.1 469.5,910.3 477.5,905.1 485.5,900 493.5,895 501.5,881.3 509.5,865.3 517.5,854.1 525.5,849.8 533.5,843.8 541.5,834.8 549.5,821.3 557.5,805.3 565.5,783.8 573.5,765 581.5,756.9 589.5,759.4 597.5,759.4 605.5,755.6 613.5,757.9 621.5,760.3 629.5,758.4 637.5,745.3 645.5,727.5 653.5,717.2 661.5,707.3 669.5,704.1 677.5,700.7 685.5,705 693.5,708.4 701.5,709.7 709.5,711.6 717.5,718.7 725.5,725.6 733.5,736.9 741.5,749.1 749.5,763.1 757.5,777.2 765.5,792.2 773.5,806.8 781.5,818.4 789.5,829.7 797.5,832.9 805.5,835.7 813.5,833.8 821.5,838.5 829.5,851.3 837.5,861.6 845.5,871.9 853.5,883.1 861.5,894.8 869.5,893.5 877.5,892.5 885.5,893.5 893.5,898.1 901.5,907.1 909.5,912.2 917.5,917.3 925.5,918.4 933.5,917.8 941.5,918.8 949.5,913.5 957.5,905.3 965.5,894.4 973.5,884.1 981.5,861.6 989.5,825 997.5,807.2 1005.5,798.8 1013.5,795.9 1021.5,788.4 1029.5,775.3 1037.5,761.8 1045.5,760.7 1053.5,767.8 1061.5,779.4 1069.5,788.4 1077.5,798.2 1085.5,810.9 1093.5,822.6 1101.5,825.6 1109.5,820.3 1117.5,823.7 1125.5,830.6 1133.5,839.1 1141.5,846.6 1149.5,840 1157.5,837.6 1165.5,843.8 1173.5,854.5 1181.5,856.5 1189.5,861.6 1197.5,870.6 1205.5,868.5 1213.5,871.5 1221.5,869.6 1229.5,864 1237.5,861 1245.5,859.7 1253.5,863.5 1261.5,859.7 1269.5,857.8 1277.5,861.6 1285.5,859.1 1293.5,852.2 1301.5,843.4 1309.5,826.9 1317.5,810.9 1325.5,798.8 1333.5,790.3 1341.5,785.6 1349.5,783.8 1357.5,791.6 1365.5,787.5 1373.5,777.8 1381.5,775.9 1389.5,780.9 1397.5,796.5 1405.5,810 1413.5,823.1 1421.5,832.5 1429.5,837.6 1437.5,842.8 1445.5,849.4 1453.5,847.5 1461.5,836.3 1469.5,818.4 1477.5,791.3 1485.5,770.6 1493.5,750.9 1501.5,733.1 1509.5,726.2 1517.5,719.1 1525.5,707.3 1533.5,693.8 1541.5,682.1 1549.5,669.4 1557.5,664.7 1565.5,668.4 1573.5,672.2 1581.5,673.7 1589.5,676.5 1597.5,672.2 1605.5,664.7 1613.5,658.1 1621.5,653.1 1629.5,664.1 1637.5,683.4 1645.5,696 1653.5,704.6 1661.5,706.5 1669.5,707.3 1677.5,716.3 1685.5,725.6 1693.5,742.5 1701.5,761.3 1709.5,777.8 1717.5,773.4 1725.5,763.5 1733.5,759.4 1741.5,767.8 1749.5,776.6 1757.5,767.8 1765.5,760.7 1773.5,762.8 1781.5,769.7 1789.5,778.7 1797.5,782.8 1805.5,774.4 1813.5,761.3 1821.5,744.4 1829.5,721.9 1837.5,699.8 1845.5,691.5 1853.5,696.6 1861.5,706.5 1869.5,711.9 1877.5,705.6 1885.5,705.6 1893.5,718.1 1901.5,737.8 1909.5,759.4 1917.5,774 1925.5,784.7 1933.5,792.6 1941.5,792.6 1949.5,792.2 1957.5,783.8 1965.5,776.8 1973.5,773.4 1981.5,779.4 1989.5,795.4 1997.5,804.4 2005.5,811.3 2013.5,811.9 2021.5,812.4 2029.5,812.3 2037.5,811.3 2045.5,811.1 2053.5,811.1 2061.5,804.9 2069.5,798.8 2077.5,795.6 2085.5,792.6 2093.5,801.6 2101.5,810 2109.5,816.6 2117.5,810.9 2125.5,807.8 2133.5,804.4 2141.5,803.4 2149.5,814.7 2157.5,830.6 2165.5,839.6 2173.5,848.5 2181.5,857.3 2189.5,863.5 2197.5,867.2 2205.5,870.6 2213.5,868.5 2221.5,870.6 2229.5,870.6 2237.5,861.6 2245.5,854.1 2253.5,846.6 2261.5,838.1 2269.5,828.8 2277.5,812.8 2285.5,798.8 2293.5,785.6 2301.5,773.4" fill="none" stroke="#00cfd4" stroke-width="1.35" stroke-linejoin="miter" />
<polyline clip-path="url(#c3)" points="77.5,803.4 85.5,810.6 93.5,810.6 101.5,813.4 109.5,808.7 117.5,818.4 125.5,836.3 133.5,845.6 141.5,835.3 149.5,798.8 157.5,793.1 165.5,787.5 173.5,810.9 181.5,833.5 189.5,821.3 197.5,806.3 205.5,775.7 213.5,768.8 221.5,780 229.5,762.8 237.5,757.9 245.5,778.1 253.5,803.4 261.5,785.3 269.5,803.4 277.5,825.9 285.5,851.8 293.5,860.1 301.5,868.5 309.5,884.1 317.5,896.3 325.5,905.3 333.5,905.3 341.5,911.3 349.5,920.3 357.5,930.6 365.5,917.8 373.5,908.1 381.5,916 389.5,926.8 397.5,930.6 405.5,926.8 413.5,927.8 421.5,935.3 429.5,928.1 437.5,916 445.5,905.6 453.5,914.1 461.5,911.8 469.5,907.5 477.5,899.5 485.5,895 493.5,890.6 501.5,867.2 509.5,850.3 517.5,842.5 525.5,846.6 533.5,838.1 541.5,824.1 549.5,806.3 557.5,791.3 565.5,762.2 573.5,747.6 581.5,747.6 589.5,762.6 597.5,759.4 605.5,751.9 613.5,758.4 621.5,763.1 629.5,757.5 637.5,733.1 645.5,710.6 653.5,699 661.5,687.8 669.5,690.9 677.5,694.1 685.5,705 693.5,715.3 701.5,715.3 709.5,715.3 717.5,727.5 725.5,739.7 733.5,755.6 741.5,771.6 749.5,787.5 757.5,803.4 765.5,819.4 773.5,836.3 781.5,844.7 789.5,852.6 797.5,847.1 805.5,841.5 813.5,833.1 821.5,842.8 829.5,864.4 837.5,871 845.5,883.1 853.5,894.4 861.5,905.3 869.5,891.2 877.5,892.5 885.5,894.4 893.5,901.9 901.5,917.3 909.5,918.8 917.5,921.6 925.5,918.8 933.5,917.3 941.5,918.2 949.5,908.1 957.5,896.3 965.5,883.5 973.5,875.6 981.5,834.4 989.5,788.8 997.5,788.4 1005.5,789.8 1013.5,793.7 1021.5,782.8 1029.5,761.3 1037.5,747.8 1045.5,761.3 1053.5,777.2 1061.5,791.6 1069.5,796.5 1077.5,809.1 1085.5,825.9 1093.5,833.8 1101.5,826.9 1109.5,816.9 1117.5,826.9 1125.5,837.2 1133.5,848.5 1141.5,853.7 1149.5,832.5 1157.5,835.3 1165.5,849.4 1173.5,865.7 1181.5,858.8 1189.5,867.2 1197.5,879.8 1205.5,867.2 1213.5,875.6 1221.5,866.3 1229.5,857.5 1237.5,857.5 1245.5,859.7 1253.5,867.8 1261.5,855.6 1269.5,856.9 1277.5,864.8 1285.5,857.8 1293.5,846.6 1301.5,835.3 1309.5,812.8 1317.5,797.8 1325.5,786.6 1333.5,780.6 1341.5,781.5 1349.5,781.5 1357.5,799.7 1365.5,784.1 1373.5,768.8 1381.5,773.4 1389.5,784.7 1397.5,810.4 1405.5,823.1 1413.5,835.7 1421.5,841.5 1429.5,843.8 1437.5,847.5 1445.5,855.6 1453.5,846.6 1461.5,825 1469.5,797.8 1477.5,764.6 1485.5,749.1 1493.5,732.2 1501.5,716.6 1509.5,719.1 1517.5,711 1525.5,695.6 1533.5,680.6 1541.5,669.9 1549.5,656.8 1557.5,660.4 1565.5,669.9 1573.5,677.4 1581.5,675.6 1589.5,679.7 1597.5,668.4 1605.5,655.3 1613.5,651.6 1621.5,649.3 1629.5,675 1637.5,703.7 1645.5,709.3 1653.5,712.5 1661.5,708.8 1669.5,707.8 1677.5,724.7 1685.5,735.9 1693.5,759.4 1701.5,781.9 1709.5,792.2 1717.5,770.6 1725.5,752.4 1733.5,756.9 1741.5,775.9 1749.5,784.3 1757.5,758.4 1765.5,753.8 1773.5,765 1781.5,775.9 1789.5,786.2 1797.5,787.5 1805.5,768.8 1813.5,750 1821.5,729.4 1829.5,702.2 1837.5,676.9 1845.5,684.4 1853.5,701.3 1861.5,716.3 1869.5,716.3 1877.5,699 1885.5,705 1893.5,729.4 1901.5,756.6 1909.5,780.6 1917.5,788.4 1925.5,796.5 1933.5,799.7 1941.5,793.5 1949.5,792.8 1957.5,773.4 1965.5,769.7 1973.5,770.6 1981.5,782.8 1989.5,812.4 1997.5,813.4 2005.5,818.4 2013.5,816.6 2021.5,814.7 2029.5,812.3 2037.5,809.4 2045.5,810.4 2053.5,811.3 2061.5,797.8 2069.5,784.3 2077.5,785.3 2085.5,786.6 2093.5,811.5 2101.5,818.4 2109.5,821.3 2117.5,807.2 2125.5,804 2133.5,800.6 2141.5,802.5 2149.5,825 2157.5,846.6 2165.5,847.5 2173.5,857.8 2181.5,867.8 2189.5,870 2197.5,871.9 2205.5,873.8 2213.5,867.2 2221.5,871.5 2229.5,871 2237.5,853.1 2245.5,846.6 2253.5,839.1 2261.5,829.7 2269.5,819.4 2277.5,795.6 2285.5,783.8 2293.5,772.5 2301.5,761.6" fill="none" stroke="#e2e200" stroke-width="1.35" stroke-linejoin="miter" />
<g clip-path="url(#l3)">
<text class="lb" x="71.7" y="656" text-anchor="end">0,009000</text>
<text class="lb" x="2348.3" y="656">0,009000</text>
<text class="lb" x="71.7" y="700.1" text-anchor="end">0,008000</text>
<text class="lb" x="2348.3" y="700.1">0,008000</text>
<text class="lb" x="71.7" y="744.3" text-anchor="end">0,007000</text>
<text class="lb" x="2348.3" y="744.3">0,007000</text>
<text class="lb" x="71.7" y="788.4" text-anchor="end">0,006000</text>
<text class="lb" x="2348.3" y="788.4">0,006000</text>
<text class="lb" x="71.7" y="832.6" text-anchor="end">0,005000</text>
<text class="lb" x="2348.3" y="832.6">0,005000</text>
<text class="lb" x="71.7" y="876.7" text-anchor="end">0,004000</text>
<text class="lb" x="2348.3" y="876.7">0,004000</text>
<text class="lb" x="71.7" y="920.9" text-anchor="end">0,003000</text>
<text class="lb" x="2348.3" y="920.9">0,003000</text>
</g>
<g clip-path="url(#l3)">
<path class="tk" d="M76.8 651.6H80.6M2339.9 651.6H2343.4M76.8 695.7H80.6M2339.9 695.7H2343.4M76.8 739.9H80.6M2339.9 739.9H2343.4M76.8 784H80.6M2339.9 784H2343.4M76.8 828.2H80.6M2339.9 828.2H2343.4M76.8 872.3H80.6M2339.9 872.3H2343.4M76.8 916.5H80.6M2339.9 916.5H2343.4M78.8 673.6H80.6M2339.9 673.6H2341.4M78.8 717.8H80.6M2339.9 717.8H2341.4M78.8 762H80.6M2339.9 762H2341.4M78.8 806.1H80.6M2339.9 806.1H2341.4M78.8 850.3H80.6M2339.9 850.3H2341.4M78.8 894.4H80.6M2339.9 894.4H2341.4M78.8 938.6H80.6M2339.9 938.6H2341.4"/></g>
<text class="tt" x="85.2" y="628.6">Neocortex</text>
<g clip-path="url(#l4)">
<text class="lb" x="71.7" y="1015.9" text-anchor="end">4.700,00</text>
<text class="lb" x="2348.3" y="1015.9">4.700,00</text>
<text class="lb" x="71.7" y="1055.9" text-anchor="end">4.650,00</text>
<text class="lb" x="2348.3" y="1055.9">4.650,00</text>
<text class="lb" x="71.7" y="1095.9" text-anchor="end">4.600,00</text>
<text class="lb" x="2348.3" y="1095.9">4.600,00</text>
<text class="lb" x="71.7" y="1135.9" text-anchor="end">4.550,00</text>
<text class="lb" x="2348.3" y="1135.9">4.550,00</text>
<text class="lb" x="71.7" y="1175.9" text-anchor="end">4.500,00</text>
<text class="lb" x="2348.3" y="1175.9">4.500,00</text>
<text class="lb" x="71.7" y="1215.9" text-anchor="end">4.450,00</text>
<text class="lb" x="2348.3" y="1215.9">4.450,00</text>
<text class="lb" x="71.7" y="1255.9" text-anchor="end">4.400,00</text>
<text class="lb" x="2348.3" y="1255.9">4.400,00</text>
<text class="lb" x="71.7" y="1295.9" text-anchor="end">4.350,00</text>
<text class="lb" x="2348.3" y="1295.9">4.350,00</text>
<text class="lb" x="71.7" y="1335.9" text-anchor="end">4.300,00</text>
<text class="lb" x="2348.3" y="1335.9">4.300,00</text>
<text class="lb" x="71.7" y="1375.9" text-anchor="end">4.250,00</text>
<text class="lb" x="2348.3" y="1375.9">4.250,00</text>
<text class="lb" x="71.7" y="1415.9" text-anchor="end">4.200,00</text>
<text class="lb" x="2348.3" y="1415.9">4.200,00</text>
<text class="lb" x="71.7" y="1455.9" text-anchor="end">4.150,00</text>
<text class="lb" x="2348.3" y="1455.9">4.150,00</text>
<text class="lb" x="71.7" y="1495.9" text-anchor="end">4.100,00</text>
<text class="lb" x="2348.3" y="1495.9">4.100,00</text>
<text class="lb" x="71.7" y="1535.9" text-anchor="end">4.050,00</text>
<text class="lb" x="2348.3" y="1535.9">4.050,00</text>
<text class="lb" x="71.7" y="1575.9" text-anchor="end">4.000,00</text>
<text class="lb" x="2348.3" y="1575.9">4.000,00</text>
<text class="lb" x="71.7" y="1615.9" text-anchor="end">3.950,00</text>
<text class="lb" x="2348.3" y="1615.9">3.950,00</text>
<text class="lb" x="71.7" y="1655.9" text-anchor="end">3.900,00</text>
<text class="lb" x="2348.3" y="1655.9">3.900,00</text>
<text class="lb" x="71.7" y="1695.9" text-anchor="end">3.850,00</text>
<text class="lb" x="2348.3" y="1695.9">3.850,00</text>
<text class="lb" x="71.7" y="1735.9" text-anchor="end">3.800,00</text>
<text class="lb" x="2348.3" y="1735.9">3.800,00</text>
<text class="lb" x="71.7" y="1775.9" text-anchor="end">3.750,00</text>
<text class="lb" x="2348.3" y="1775.9">3.750,00</text>
<text class="lb" x="71.7" y="1815.9" text-anchor="end">3.700,00</text>
<text class="lb" x="2348.3" y="1815.9">3.700,00</text>
</g>
<g clip-path="url(#l4)">
<path class="tk" d="M76.8 1011.5H80.6M2339.9 1011.5H2343.4M76.8 1051.5H80.6M2339.9 1051.5H2343.4M76.8 1091.5H80.6M2339.9 1091.5H2343.4M76.8 1131.5H80.6M2339.9 1131.5H2343.4M76.8 1171.5H80.6M2339.9 1171.5H2343.4M76.8 1211.5H80.6M2339.9 1211.5H2343.4M76.8 1251.5H80.6M2339.9 1251.5H2343.4M76.8 1291.5H80.6M2339.9 1291.5H2343.4M76.8 1331.5H80.6M2339.9 1331.5H2343.4M76.8 1371.5H80.6M2339.9 1371.5H2343.4M76.8 1411.5H80.6M2339.9 1411.5H2343.4M76.8 1451.5H80.6M2339.9 1451.5H2343.4M76.8 1491.5H80.6M2339.9 1491.5H2343.4M76.8 1531.5H80.6M2339.9 1531.5H2343.4M76.8 1571.5H80.6M2339.9 1571.5H2343.4M76.8 1611.5H80.6M2339.9 1611.5H2343.4M76.8 1651.5H80.6M2339.9 1651.5H2343.4M76.8 1691.5H80.6M2339.9 1691.5H2343.4M76.8 1731.5H80.6M2339.9 1731.5H2343.4M76.8 1771.5H80.6M2339.9 1771.5H2343.4M76.8 1811.5H80.6M2339.9 1811.5H2343.4M78.8 1031.5H80.6M2339.9 1031.5H2341.4M78.8 1071.5H80.6M2339.9 1071.5H2341.4M78.8 1111.5H80.6M2339.9 1111.5H2341.4M78.8 1151.5H80.6M2339.9 1151.5H2341.4M78.8 1191.5H80.6M2339.9 1191.5H2341.4M78.8 1231.5H80.6M2339.9 1231.5H2341.4M78.8 1271.5H80.6M2339.9 1271.5H2341.4M78.8 1311.5H80.6M2339.9 1311.5H2341.4M78.8 1351.5H80.6M2339.9 1351.5H2341.4M78.8 1391.5H80.6M2339.9 1391.5H2341.4M78.8 1431.5H80.6M2339.9 1431.5H2341.4M78.8 1471.5H80.6M2339.9 1471.5H2341.4M78.8 1511.5H80.6M2339.9 1511.5H2341.4M78.8 1551.5H80.6M2339.9 1551.5H2341.4M78.8 1591.5H80.6M2339.9 1591.5H2341.4M78.8 1631.5H80.6M2339.9 1631.5H2341.4M78.8 1671.5H80.6M2339.9 1671.5H2341.4M78.8 1711.5H80.6M2339.9 1711.5H2341.4M78.8 1751.5H80.6M2339.9 1751.5H2341.4M78.8 1791.5H80.6M2339.9 1791.5H2341.4M78.8 1831.5H80.6M2339.9 1831.5H2341.4"/></g>
<text class="tt" x="85.2" y="972.3" textLength="271.6" lengthAdjust="spacingAndGlyphs">EW-Croc Longsignale Abstandstest 3</text>
<text class="tt" x="376.3" y="972.3" textLength="274" lengthAdjust="spacingAndGlyphs">EW-Croc Shortsignale Abstandstest 3</text>
<text class="tt" x="671.2" y="972.3" textLength="200.8" lengthAdjust="spacingAndGlyphs">ICE Bear/Bull 1 Punkt/Kreis</text>
<text class="wt" x="889.8" y="972.3" textLength="42.3" lengthAdjust="spacingAndGlyphs">$SPX</text>
<text class="wt" x="1001.2" y="972.3" textLength="108.8" lengthAdjust="spacingAndGlyphs">S&amp;P 500 Index</text>
<text class="wt" x="1120" y="972.3" textLength="42.5" lengthAdjust="spacingAndGlyphs">1 Day</text>
<rect x="941.5" y="957.5" width="18.5" height="17.5" rx="1.5" fill="#000" stroke="#fff" stroke-width="1.2"/>
<path d="M947.25 965L954.25 965L950.75 969Z" fill="#fff"/>
<rect x="969.3" y="957.5" width="22.3" height="17.5" rx="1.5" fill="#000" stroke="#fff" stroke-width="1.2"/>
<text class="wt" x="973.8" y="972.3">I</text>
<path d="M980.5999999999999 965L987.5999999999999 965L984.0999999999999 969Z" fill="#fff"/>
<rect x="1172.3" y="957.5" width="18.5" height="17.5" rx="1.5" fill="#000" stroke="#fff" stroke-width="1.2"/>
<path d="M1178.05 965L1185.05 965L1181.55 969Z" fill="#fff"/>
<rect x="1200.3" y="957.5" width="28.5" height="17.5" rx="1.5" fill="#f00" stroke="#ddd" stroke-width="1.2"/>
<text x="1204.3" y="972.3" style="font-size:16px;fill:#1c0000">R</text>
<path d="M1217 964.5L1225 964.5L1221 968.5Z" fill="#1c0000"/>
<g clip-path="url(#c4)"><path d="M85.5 1561.2V1607.9M93.5 1590V1621.9M101.5 1507.1V1620.7M109.5 1491V1530.5M117.5 1507.1V1550.5M125.5 1529V1584.5M133.5 1570.2V1636.9M141.5 1605.2V1633.8M149.5 1591.9V1622.6M157.5 1589.3V1625.7M165.5 1579V1623.8M173.5 1490V1577.4M181.5 1528.1V1599.5M189.5 1604V1668.6M197.5 1657.9V1709.5M205.5 1686.9V1731.7M213.5 1701.2V1735.7M221.5 1659V1700.7M229.5 1689.3V1760.7M237.5 1695.2V1734.5M245.5 1694V1721.4M253.5 1693.3V1747.6M261.5 1685V1727.9M269.5 1698.8V1731.7M277.5 1668.3V1736.9M285.5 1673.3V1719.8M293.5 1699.3V1729.8M301.5 1646.4V1724.5M309.5 1611.4V1660M317.5 1635.2V1669.8M325.5 1595.2V1628.6M333.5 1573.3V1621.9M341.5 1568.3V1613.6M349.5 1559V1584M357.5 1560.2V1631M365.5 1632.9V1663.8M373.5 1593.1V1653.8M381.5 1540V1594.8M389.5 1551.9V1580M397.5 1554.8V1613.1M405.5 1521.4V1560.7M413.5 1496V1532.9M421.5 1520V1560M429.5 1509V1556M437.5 1451.9V1541.9M445.5 1414.5V1457.9M453.5 1425V1472.9M461.5 1471V1496.7M469.5 1430V1500.7M477.5 1444.8V1482.9M485.5 1446V1515.7M493.5 1496V1522.9M501.5 1459.8V1497.9M509.5 1442.9V1496M517.5 1451.9V1488.8M525.5 1461.9V1500M533.5 1506V1534M541.5 1529V1576M549.5 1556.9V1590.7M557.5 1547.9V1596.7M565.5 1589V1617.9M573.5 1556.9V1592.9M581.5 1572.9V1597.1M589.5 1593.8V1621M597.5 1578.1V1629.8M605.5 1532.4V1576M613.5 1508.1V1536M621.5 1530.7V1587.9M629.5 1571.2V1596M637.5 1557.4V1644.8M645.5 1624V1694.8M653.5 1647.1V1724.8M669.5 1621.2V1672.9M685.5 1656.2V1701.4M701.5 1600.2V1680.7M717.5 1603.8V1650.7M733.5 1606.2V1638.8M749.5 1564V1594.8M765.5 1539V1622.4M781.5 1565V1636.7M797.5 1593.1V1644.8M813.5 1568.1V1596M821.5 1587.9V1610.5M829.5 1547.1V1571.7M837.5 1525V1546M845.5 1481.9V1526.4M853.5 1468.8V1493.1M861.5 1464.1V1502.9M869.5 1490.9V1513.8M877.5 1485V1515.9M885.5 1482.9V1513.8M893.5 1472.1V1490M901.5 1463.2V1502M909.5 1451.2V1491.8M917.5 1440V1481.1M925.5 1449.8V1473M933.5 1435V1460M941.5 1440.9V1464.1M949.5 1452V1480.2M957.5 1460.9V1481.1M965.5 1457V1478M973.5 1470V1514.6M981.5 1498.9V1532.9M989.5 1460.2V1511.8M997.5 1435V1470M1005.5 1420.9V1440.9M1013.5 1440V1499.8M1021.5 1452V1500.7M1029.5 1505V1532.9M1037.5 1452.9V1503.8M1045.5 1457V1473M1053.5 1467V1478.9M1061.5 1448V1493M1069.5 1465V1485M1077.5 1456.1V1493M1085.5 1457.9V1484.1M1093.5 1462.9V1483.8M1101.5 1439.1V1481.1M1109.5 1409.1V1448.9M1117.5 1401.1V1428M1125.5 1404V1428M1133.5 1421.9V1457.9M1141.5 1461.7V1488.6M1149.5 1437.9V1467.7M1157.5 1401V1446.8M1165.5 1385.9V1417.8M1173.5 1415.1V1438.9M1181.5 1385V1434.8M1189.5 1337.9V1378.9M1197.5 1330.9V1357.9M1205.5 1340.1V1361M1213.5 1330.9V1361M1221.5 1332V1362.8M1229.5 1313V1337.9M1237.5 1299.2V1327.8M1245.5 1270.2V1291.8M1253.5 1257.1V1301.9M1261.5 1218.9V1281.8M1269.5 1212.1V1245.7M1277.5 1250.8V1278M1285.5 1261.9V1283.9M1293.5 1265V1289.9M1301.5 1278V1298.8M1309.5 1281.1V1308.8M1317.5 1263.2V1303.8M1325.5 1258V1283.9M1333.5 1252.1V1273.9M1341.5 1204V1233.8M1349.5 1206.2V1218M1357.5 1206.9V1222M1365.5 1233.1V1264.1M1373.5 1218V1254M1381.5 1240.8V1259.9M1389.5 1215.9V1244.9M1397.5 1179.9V1201.2M1405.5 1156.9V1179.9M1413.5 1148.2V1172M1421.5 1144V1168M1429.5 1120.9V1160M1437.5 1108V1125.9M1445.5 1119.1V1150.1M1453.5 1127V1142.7M1461.5 1120V1139M1469.5 1106.1V1130.1M1477.5 1104.8V1134M1485.5 1084.9V1148.9M1493.5 1098V1120M1501.5 1094.7V1113.1M1509.5 1103V1118.1M1517.5 1130.1V1167M1525.5 1155V1183.1M1533.5 1138.1V1191.9M1541.5 1155V1179M1549.5 1168V1199.9M1557.5 1168.9V1203M1565.5 1149.1V1204.9M1573.5 1190.1V1216.9M1581.5 1177.7V1208.9M1589.5 1187.9V1226.1M1597.5 1211V1249.1M1605.5 1233.8V1280M1613.5 1264.8V1304M1621.5 1244.9V1284.2M1629.5 1235.9V1266.1M1637.5 1215.9V1254.7M1645.5 1204V1271M1653.5 1236.3V1287M1661.5 1219.1V1239.9M1669.5 1171.3V1226.1M1677.5 1153.2V1176.8M1685.5 1144.9V1165.8M1693.5 1137.9V1170.9M1701.5 1159.1V1174.8M1709.5 1178.1V1217.8M1717.5 1204V1227M1725.5 1192V1213M1733.5 1177.9V1197M1741.5 1180.9V1205.8M1749.5 1187V1208.9M1757.5 1161.2V1189M1765.5 1172V1213.9M1773.5 1198.1V1218M1781.5 1211V1237.9M1789.5 1202.1V1251M1797.5 1270V1308M1805.5 1285V1318.9M1813.5 1299.9V1330M1821.5 1319.9V1359M1829.5 1337V1380.9M1837.5 1317.1V1359.9M1845.5 1304V1352M1853.5 1330V1364M1861.5 1346.1V1399M1869.5 1356V1396.1M1877.5 1356.9V1391.1M1885.5 1311.9V1396.1M1893.5 1297V1344.9M1901.5 1262.1V1299.8M1909.5 1267.8V1295.9M1917.5 1262.3V1310.8M1925.5 1269.1V1321.9M1933.5 1264.1V1297.9M1941.5 1256.2V1302M1949.5 1279.1V1328.9M1957.5 1299.2V1356M1965.5 1349.9V1392.9M1973.5 1366V1421M1981.5 1362.9V1396.1M1989.5 1385V1426.9M1997.5 1424.1V1469.9M2005.5 1445.9V1488.9M2013.5 1428.9V1465.8M2029.5 1414V1449M2045.5 1374.1V1414M2061.5 1315.1V1357M2077.5 1272.1V1304M2093.5 1273V1294M2101.5 1262.1V1287M2109.5 1258V1284.1M2117.5 1256.2V1297M2125.5 1236.1V1289.1M2133.5 1233V1257M2141.5 1163.8V1204.9M2149.5 1154V1174.8M2157.5 1161V1180.9M2165.5 1154.9V1171.9M2173.5 1125V1163.2M2181.5 1137V1150.8M2189.5 1116V1136.1M2197.5 1122.1V1129.1M2205.5 1122.1V1135M2213.5 1116V1138.9M2221.5 1100.1V1133.9M2229.5 1115V1142M2237.5 1091.1V1128M2245.5 1113V1133.9M2253.5 1108V1130M2261.5 1097.9V1133.9M2269.5 1097.9V1118.9M2277.5 1082.9V1112.1M2285.5 1072V1097M2293.5 1054.9V1085M2301.5 1003V1056.9" stroke="#f2f2f2" stroke-width="1.15" fill="none"/><g fill="#f00"><rect x="83" y="1567.1" width="5" height="33.6"/><rect x="91" y="1600" width="5" height="5.5"/><rect x="107" y="1501.2" width="5" height="9.5"/><rect x="123" y="1529" width="5" height="43.6"/><rect x="131" y="1574.3" width="5" height="44"/><rect x="155" y="1608.3" width="5" height="16.2"/><rect x="171" y="1516.2" width="5" height="39.8"/><rect x="179" y="1559" width="5" height="16.7"/><rect x="187" y="1604" width="5" height="51.5"/><rect x="195" y="1657.9" width="5" height="31.9"/><rect x="203" y="1688.1" width="5" height="29.3"/><rect x="227" y="1689.3" width="5" height="24.3"/><rect x="243" y="1697.1" width="5" height="11.7"/><rect x="251" y="1708.3" width="5" height="36.9"/><rect x="275" y="1689.3" width="5" height="23.3"/><rect x="291" y="1699.3" width="5" height="26.2"/><rect x="307" y="1643.3" width="5" height="15.5"/><rect x="347" y="1572.1" width="5" height="6.7"/><rect x="355" y="1569" width="5" height="59.8"/><rect x="363" y="1641.9" width="5" height="10.7"/><rect x="419" y="1532.1" width="5" height="26"/><rect x="451" y="1461.9" width="5" height="1.4"/><rect x="459" y="1475" width="5" height="7.9"/><rect x="475" y="1447.9" width="5" height="29.7"/><rect x="483" y="1456" width="5" height="50.7"/><rect x="523" y="1479" width="5" height="21"/><rect x="539" y="1529" width="5" height="45"/><rect x="547" y="1570" width="5" height="8.8"/><rect x="555" y="1556" width="5" height="5.9"/><rect x="563" y="1593.1" width="5" height="2.6"/><rect x="571" y="1577.1" width="5" height="8.9"/><rect x="579" y="1589" width="5" height="7"/><rect x="587" y="1600" width="5" height="11"/><rect x="611" y="1527.6" width="5" height="4.8"/><rect x="619" y="1532.4" width="5" height="50"/><rect x="635" y="1572.1" width="5" height="65.5"/><rect x="643" y="1641.2" width="5" height="41.2"/><rect x="715" y="1603.8" width="5" height="34.5"/><rect x="763" y="1569.3" width="5" height="53.1"/><rect x="779" y="1603.8" width="5" height="8.8"/><rect x="811" y="1585.2" width="5" height="4.3"/><rect x="819" y="1592.4" width="5" height="2.1"/><rect x="859" y="1469.1" width="5" height="22.7"/><rect x="867" y="1495" width="5" height="4.8"/><rect x="891" y="1483.2" width="5" height="1.4"/><rect x="899" y="1473.9" width="5" height="23.8"/><rect x="915" y="1459.1" width="5" height="2.7"/><rect x="931" y="1440" width="5" height="7.9"/><rect x="947" y="1467" width="5" height="1.4"/><rect x="971" y="1470" width="5" height="44.6"/><rect x="979" y="1501.1" width="5" height="25.9"/><rect x="1011" y="1440" width="5" height="35.9"/><rect x="1019" y="1473" width="5" height="25.9"/><rect x="1027" y="1505" width="5" height="17.9"/><rect x="1051" y="1472" width="5" height="5"/><rect x="1059" y="1456.1" width="5" height="5.9"/><rect x="1067" y="1465.2" width="5" height="1.6"/><rect x="1075" y="1460" width="5" height="12.9"/><rect x="1091" y="1468.9" width="5" height="14.9"/><rect x="1115" y="1408" width="5" height="9.9"/><rect x="1131" y="1430.2" width="5" height="25.8"/><rect x="1139" y="1465" width="5" height="15.2"/><rect x="1147" y="1446.3" width="5" height="4.6"/><rect x="1163" y="1390.2" width="5" height="17.5"/><rect x="1171" y="1418.2" width="5" height="9.6"/><rect x="1195" y="1344" width="5" height="8.7"/><rect x="1211" y="1342.2" width="5" height="15.7"/><rect x="1227" y="1327.2" width="5" height="5.7"/><rect x="1267" y="1218" width="5" height="25.8"/><rect x="1275" y="1254.3" width="5" height="6.7"/><rect x="1283" y="1267.3" width="5" height="11.6"/><rect x="1299" y="1287.2" width="5" height="5.5"/><rect x="1307" y="1295.1" width="5" height="13.7"/><rect x="1363" y="1233.1" width="5" height="8.5"/><rect x="1371" y="1247.1" width="5" height="5.8"/><rect x="1411" y="1159.1" width="5" height="7.6"/><rect x="1443" y="1127" width="5" height="16.8"/><rect x="1451" y="1131" width="5" height="11.7"/><rect x="1483" y="1092.3" width="5" height="49.3"/><rect x="1507" y="1108" width="5" height="1.8"/><rect x="1515" y="1130.1" width="5" height="30.7"/><rect x="1531" y="1160" width="5" height="28.6"/><rect x="1555" y="1168.9" width="5" height="28.8"/><rect x="1563" y="1181.1" width="5" height="15.8"/><rect x="1587" y="1187.9" width="5" height="33"/><rect x="1595" y="1223.9" width="5" height="24"/><rect x="1603" y="1238.1" width="5" height="37.8"/><rect x="1627" y="1238.1" width="5" height="23.4"/><rect x="1643" y="1207.1" width="5" height="63.9"/><rect x="1683" y="1156.9" width="5" height="8.9"/><rect x="1691" y="1145.8" width="5" height="13.1"/><rect x="1699" y="1163" width="5" height="10.9"/><rect x="1707" y="1178.1" width="5" height="20.9"/><rect x="1739" y="1192" width="5" height="9.9"/><rect x="1763" y="1172" width="5" height="39"/><rect x="1779" y="1214.1" width="5" height="2.8"/><rect x="1787" y="1208" width="5" height="42.1"/><rect x="1795" y="1271" width="5" height="37"/><rect x="1803" y="1297" width="5" height="19"/><rect x="1819" y="1321" width="5" height="31.9"/><rect x="1827" y="1344.9" width="5" height="7.1"/><rect x="1843" y="1308" width="5" height="32.9"/><rect x="1859" y="1354.9" width="5" height="33"/><rect x="1875" y="1363" width="5" height="1.9"/><rect x="1915" y="1266.2" width="5" height="25.6"/><rect x="1923" y="1282" width="5" height="27.9"/><rect x="1947" y="1285" width="5" height="34.9"/><rect x="1955" y="1314" width="5" height="34.8"/><rect x="1963" y="1352" width="5" height="40.9"/><rect x="1987" y="1385" width="5" height="37.8"/><rect x="1995" y="1430" width="5" height="32"/><rect x="2003" y="1449" width="5" height="28.8"/><rect x="2107" y="1263" width="5" height="2.8"/><rect x="2115" y="1258" width="5" height="35.8"/><rect x="2147" y="1166.2" width="5" height="2.7"/><rect x="2179" y="1140" width="5" height="1.4"/><rect x="2203" y="1127" width="5" height="3.9"/><rect x="2219" y="1113" width="5" height="17.9"/><rect x="2259" y="1101.9" width="5" height="30.1"/></g><g fill="#0f0"><rect x="99" y="1507.1" width="5" height="98.4"/><rect x="115" y="1514.3" width="5" height="25.5"/><rect x="139" y="1624.3" width="5" height="1.4"/><rect x="147" y="1600" width="5" height="13.8"/><rect x="163" y="1579" width="5" height="41.7"/><rect x="211" y="1714.3" width="5" height="9.5"/><rect x="219" y="1668.3" width="5" height="32.4"/><rect x="235" y="1695.2" width="5" height="24.3"/><rect x="259" y="1692.1" width="5" height="35.8"/><rect x="267" y="1700" width="5" height="8.8"/><rect x="283" y="1689.3" width="5" height="10.2"/><rect x="299" y="1655.2" width="5" height="58.6"/><rect x="315" y="1636.2" width="5" height="24.5"/><rect x="323" y="1595.2" width="5" height="30.3"/><rect x="331" y="1585.2" width="5" height="4.6"/><rect x="339" y="1572.1" width="5" height="31.5"/><rect x="371" y="1593.1" width="5" height="51.7"/><rect x="379" y="1554.8" width="5" height="35.2"/><rect x="387" y="1558.1" width="5" height="12.9"/><rect x="395" y="1558.1" width="5" height="27.6"/><rect x="403" y="1522.9" width="5" height="20"/><rect x="411" y="1515" width="5" height="13.8"/><rect x="427" y="1510" width="5" height="44.8"/><rect x="435" y="1476.2" width="5" height="39.5"/><rect x="443" y="1426.9" width="5" height="17.9"/><rect x="467" y="1440" width="5" height="47.6"/><rect x="491" y="1499" width="5" height="17.7"/><rect x="499" y="1461" width="5" height="33.8"/><rect x="507" y="1461.9" width="5" height="9.1"/><rect x="515" y="1452.9" width="5" height="22.8"/><rect x="531" y="1508.1" width="5" height="1.4"/><rect x="595" y="1586" width="5" height="35"/><rect x="603" y="1535.2" width="5" height="38.4"/><rect x="627" y="1577.1" width="5" height="4.6"/><rect x="651" y="1687.1" width="5" height="16.7"/><rect x="667" y="1635.2" width="5" height="21.5"/><rect x="683" y="1658.1" width="5" height="12.4"/><rect x="699" y="1603.1" width="5" height="65.5"/><rect x="731" y="1610" width="5" height="27.6"/><rect x="747" y="1569.3" width="5" height="21.4"/><rect x="795" y="1594.3" width="5" height="26.2"/><rect x="827" y="1549" width="5" height="22.7"/><rect x="835" y="1530" width="5" height="4.8"/><rect x="843" y="1484" width="5" height="42.4"/><rect x="851" y="1471" width="5" height="18.5"/><rect x="875" y="1487" width="5" height="19.6"/><rect x="883" y="1484.1" width="5" height="19.7"/><rect x="907" y="1453.9" width="5" height="37.9"/><rect x="923" y="1450.2" width="5" height="11.6"/><rect x="939" y="1447.1" width="5" height="13.8"/><rect x="955" y="1464.1" width="5" height="1.8"/><rect x="963" y="1461.1" width="5" height="4.8"/><rect x="987" y="1462.9" width="5" height="48.9"/><rect x="995" y="1435" width="5" height="33"/><rect x="1003" y="1437" width="5" height="1.8"/><rect x="1035" y="1462" width="5" height="41.8"/><rect x="1043" y="1460.2" width="5" height="1.6"/><rect x="1083" y="1462" width="5" height="8.9"/><rect x="1099" y="1444.1" width="5" height="29.8"/><rect x="1107" y="1412.1" width="5" height="33.8"/><rect x="1123" y="1416.9" width="5" height="1.9"/><rect x="1155" y="1407.1" width="5" height="39.7"/><rect x="1179" y="1394.2" width="5" height="31.8"/><rect x="1187" y="1345.3" width="5" height="33.6"/><rect x="1203" y="1344" width="5" height="10.7"/><rect x="1219" y="1336.1" width="5" height="20.8"/><rect x="1235" y="1300.1" width="5" height="24.9"/><rect x="1243" y="1276.1" width="5" height="13.8"/><rect x="1251" y="1273.3" width="5" height="5.6"/><rect x="1259" y="1230" width="5" height="50"/><rect x="1291" y="1265" width="5" height="21.8"/><rect x="1315" y="1268.2" width="5" height="33.7"/><rect x="1323" y="1269.1" width="5" height="8.5"/><rect x="1331" y="1254.3" width="5" height="17.6"/><rect x="1339" y="1210.2" width="5" height="23.6"/><rect x="1347" y="1206.2" width="5" height="4.8"/><rect x="1355" y="1213.2" width="5" height="4.8"/><rect x="1379" y="1243.1" width="5" height="12.5"/><rect x="1387" y="1219.1" width="5" height="19.5"/><rect x="1395" y="1193.2" width="5" height="4.3"/><rect x="1403" y="1163" width="5" height="14.5"/><rect x="1419" y="1151.9" width="5" height="12.7"/><rect x="1427" y="1127" width="5" height="26.7"/><rect x="1435" y="1118.1" width="5" height="2.6"/><rect x="1459" y="1127" width="5" height="9.8"/><rect x="1467" y="1117.2" width="5" height="9.6"/><rect x="1475" y="1117.2" width="5" height="6.6"/><rect x="1491" y="1105" width="5" height="13.7"/><rect x="1499" y="1099.1" width="5" height="4.8"/><rect x="1523" y="1169.1" width="5" height="6.8"/><rect x="1539" y="1156" width="5" height="21.7"/><rect x="1547" y="1170.9" width="5" height="1.9"/><rect x="1571" y="1199" width="5" height="11.8"/><rect x="1579" y="1179" width="5" height="25.9"/><rect x="1611" y="1275" width="5" height="20.8"/><rect x="1619" y="1251" width="5" height="17"/><rect x="1635" y="1222" width="5" height="32.7"/><rect x="1651" y="1246" width="5" height="13.9"/><rect x="1659" y="1223.9" width="5" height="7.2"/><rect x="1667" y="1173" width="5" height="53.1"/><rect x="1675" y="1159.1" width="5" height="11.8"/><rect x="1715" y="1210.1" width="5" height="13.8"/><rect x="1723" y="1204.9" width="5" height="6.1"/><rect x="1731" y="1180.9" width="5" height="6.1"/><rect x="1747" y="1197" width="5" height="4.9"/><rect x="1755" y="1167.1" width="5" height="13.8"/><rect x="1771" y="1208" width="5" height="8"/><rect x="1811" y="1300.8" width="5" height="22.2"/><rect x="1835" y="1330.9" width="5" height="24.9"/><rect x="1851" y="1340" width="5" height="4"/><rect x="1867" y="1359.9" width="5" height="25.1"/><rect x="1883" y="1323.9" width="5" height="60"/><rect x="1891" y="1302" width="5" height="38.9"/><rect x="1899" y="1284.1" width="5" height="15.7"/><rect x="1907" y="1269.1" width="5" height="9.8"/><rect x="1931" y="1272.1" width="5" height="25.8"/><rect x="1939" y="1272.1" width="5" height="23.8"/><rect x="1971" y="1397" width="5" height="6.8"/><rect x="1979" y="1373" width="5" height="10"/><rect x="2011" y="1437" width="5" height="22.9"/><rect x="2027" y="1416" width="5" height="18.8"/><rect x="2043" y="1381" width="5" height="30"/><rect x="2059" y="1317.1" width="5" height="39.9"/><rect x="2075" y="1284.1" width="5" height="19.9"/><rect x="2091" y="1278" width="5" height="1.8"/><rect x="2099" y="1268" width="5" height="10.9"/><rect x="2123" y="1239" width="5" height="41"/><rect x="2131" y="1242.2" width="5" height="3.7"/><rect x="2139" y="1173.9" width="5" height="31"/><rect x="2155" y="1164.1" width="5" height="9.8"/><rect x="2163" y="1159" width="5" height="4.8"/><rect x="2171" y="1132.9" width="5" height="29"/><rect x="2187" y="1125.2" width="5" height="3.9"/><rect x="2195" y="1123.2" width="5" height="3.8"/><rect x="2211" y="1127" width="5" height="7.8"/><rect x="2227" y="1116" width="5" height="12"/><rect x="2235" y="1094.9" width="5" height="29"/><rect x="2243" y="1115" width="5" height="4.8"/><rect x="2251" y="1117.1" width="5" height="8.8"/><rect x="2267" y="1101.9" width="5" height="15.2"/><rect x="2275" y="1087" width="5" height="24"/><rect x="2283" y="1073" width="5" height="24"/><rect x="2291" y="1056" width="5" height="20.8"/><rect x="2299" y="1005.1" width="5" height="49.8"/></g></g>
<circle cx="214" cy="1764.3" r="6" fill="#c0c0c0"/>
<ellipse cx="206" cy="1773.3" rx="3.1" ry="2.5" fill="#909090"/>
<circle cx="214" cy="1777.4" r="6" fill="#0f0"/>
<circle cx="230" cy="1785.2" r="6" fill="#f4a460"/>
<circle cx="310" cy="1597.6" r="6" fill="#f00"/>
<circle cx="342" cy="1541.6" r="6" fill="#c0c0c0"/>
<ellipse cx="358" cy="1529.3" rx="4.2" ry="3.6" fill="#3cb371"/>
<circle cx="558" cy="1632.4" r="6" fill="#0f0"/>
<ellipse cx="566" cy="1629.5" rx="3.3" ry="2.9" fill="#fff"/>
<ellipse cx="582" cy="1625.5" rx="4.2" ry="3.6" fill="#3cb371"/>
<circle cx="598" cy="1640.5" r="4.6" fill="#fff" stroke="#f00" stroke-width="2.8"/>
<circle cx="598" cy="1663.3" r="6" fill="#0f0"/>
<ellipse cx="686" cy="1713.3" rx="3.3" ry="2.9" fill="#fff"/>
<circle cx="766" cy="1527.6" r="6" fill="#f00"/>
<circle cx="854" cy="1445.5" r="6" fill="#c0c0c0"/>
<ellipse cx="862" cy="1452.4" rx="3.3" ry="2.9" fill="#fff"/>
<circle cx="902" cy="1443.9" r="6" fill="#f4a460"/>
<circle cx="902" cy="1452.5" r="6" fill="#f00"/>
<circle cx="918" cy="1429.5" r="4.6" fill="#fff" stroke="#f00" stroke-width="2.8"/>
<ellipse cx="934" cy="1424.5" rx="3.3" ry="2.9" fill="#fff"/>
<path d="M972.3 1438.6L973.4 1437.4L974.4 1437.4L975.4 1438.6L975.4 1440.7L977.5 1440.7L978.7 1441.7L978.7 1442.7L977.5 1443.8L975.4 1443.8L975.4 1445.8L974.4 1447L973.4 1447L972.3 1445.8L972.3 1443.8L970.2 1443.8L969 1442.7L969 1441.7L970.2 1440.7L972.3 1440.7Z" fill="#f00"/>
<ellipse cx="1014" cy="1415.4" rx="4.2" ry="3.6" fill="#3cb371"/>
<ellipse cx="1118" cy="1391.6" rx="3.3" ry="2.9" fill="#fff"/>
<ellipse cx="1134" cy="1400.4" rx="4.2" ry="3.6" fill="#3cb371"/>
<ellipse cx="1166" cy="1377.6" rx="3.3" ry="2.9" fill="#fff"/>
<circle cx="1190" cy="1321.7" r="6" fill="#c0c0c0"/>
<ellipse cx="1198" cy="1323.5" rx="3.3" ry="2.9" fill="#fff"/>
<ellipse cx="1214" cy="1323.5" rx="3.3" ry="2.9" fill="#fff"/>
<ellipse cx="1230" cy="1304.5" rx="3.3" ry="2.9" fill="#fff"/>
<ellipse cx="1270" cy="1203.6" rx="3.3" ry="2.9" fill="#fff"/>
<ellipse cx="1278" cy="1230.5" rx="4.2" ry="3.6" fill="#3cb371"/>
<ellipse cx="1294" cy="1246.4" rx="4.2" ry="3.6" fill="#00f"/>
<path d="M1340.3 1241.5L1341.3 1240.3L1342.3 1240.3L1343.4 1241.5L1343.4 1243.6L1345.4 1243.6L1346.7 1244.6L1346.7 1245.6L1345.4 1246.7L1343.4 1246.7L1343.4 1248.7L1342.3 1250L1341.3 1250L1340.3 1248.7L1340.3 1246.7L1338.2 1246.7L1337 1245.6L1337 1244.6L1338.2 1243.6L1340.3 1243.6Z" fill="#3cb371"/>
<ellipse cx="1358" cy="1188.5" rx="4.2" ry="3.6" fill="#00f"/>
<ellipse cx="1366" cy="1212.6" rx="4.2" ry="3.6" fill="#3cb371"/>
<path d="M1388.3 1252.6L1389.3 1251.4L1390.3 1251.4L1391.4 1252.6L1391.4 1254.7L1393.4 1254.7L1394.7 1255.7L1394.7 1256.7L1393.4 1257.8L1391.4 1257.8L1391.4 1259.8L1390.3 1261L1389.3 1261L1388.3 1259.8L1388.3 1257.8L1386.2 1257.8L1385 1256.7L1385 1255.7L1386.2 1254.7L1388.3 1254.7Z" fill="#3cb371"/>
<ellipse cx="1414" cy="1140.5" rx="3.3" ry="2.9" fill="#fff"/>
<ellipse cx="1438" cy="1100.4" rx="3.3" ry="2.9" fill="#fff"/>
<ellipse cx="1446" cy="1100.4" rx="4.2" ry="3.6" fill="#3cb371"/>
<ellipse cx="1454" cy="1109.5" rx="4.2" ry="3.6" fill="#00f"/>
<circle cx="1478" cy="1097.5" r="6" fill="#f00"/>
<circle cx="1486" cy="1071.4" r="6" fill="#f4a460"/>
<circle cx="1486" cy="1077.5" r="6" fill="#f00"/>
<circle cx="1566" cy="1228.3" r="6" fill="#0f0"/>
<ellipse cx="1574" cy="1224.2" rx="3.3" ry="2.9" fill="#fff"/>
<ellipse cx="1582" cy="1227.4" rx="4.2" ry="3.6" fill="#3cb371"/>
<path d="M1596.3 1186.5L1597.3 1185.3L1598.3 1185.3L1599.4 1186.5L1599.4 1188.6L1601.4 1188.6L1602.7 1189.6L1602.7 1190.6L1601.4 1191.7L1599.4 1191.7L1599.4 1193.7L1598.3 1195L1597.3 1195L1596.3 1193.7L1596.3 1191.7L1594.2 1191.7L1593 1190.6L1593 1189.6L1594.2 1188.6L1596.3 1188.6Z" fill="#f00"/>
<ellipse cx="1606" cy="1302.3" rx="3.1" ry="2.5" fill="#909090"/>
<ellipse cx="1614" cy="1311.3" rx="3.3" ry="2.9" fill="#fff"/>
<circle cx="1614" cy="1319.6" r="6" fill="#c0c0c0"/>
<circle cx="1686" cy="1136.4" r="6" fill="#f00"/>
<path d="M1708.3 1153.5L1709.3 1152.3L1710.3 1152.3L1711.4 1153.5L1711.4 1155.6L1713.4 1155.6L1714.7 1156.6L1714.7 1157.6L1713.4 1158.7L1711.4 1158.7L1711.4 1160.7L1710.3 1162L1709.3 1162L1708.3 1160.7L1708.3 1158.7L1706.2 1158.7L1705 1157.6L1705 1156.6L1706.2 1155.6L1708.3 1155.6Z" fill="#f00"/>
<path d="M1668.3 1234.5L1669.3 1233.3L1670.3 1233.3L1671.4 1234.5L1671.4 1236.6L1673.4 1236.6L1674.7 1237.6L1674.7 1238.6L1673.4 1239.7L1671.4 1239.7L1671.4 1241.7L1670.3 1243L1669.3 1243L1668.3 1241.7L1668.3 1239.7L1666.2 1239.7L1665 1238.6L1665 1237.6L1666.2 1236.6L1668.3 1236.6Z" fill="#3cb371"/>
<path d="M1916.3 1233.5L1917.3 1232.3L1918.3 1232.3L1919.4 1233.5L1919.4 1235.6L1921.4 1235.6L1922.7 1236.6L1922.7 1237.6L1921.4 1238.7L1919.4 1238.7L1919.4 1240.7L1918.3 1242L1917.3 1242L1916.3 1240.7L1916.3 1238.7L1914.2 1238.7L1913 1237.6L1913 1236.6L1914.2 1235.6L1916.3 1235.6Z" fill="#f00"/>
<ellipse cx="1814" cy="1337.4" rx="3.3" ry="2.9" fill="#fff"/>
<ellipse cx="1806" cy="1342.4" rx="3.1" ry="2.5" fill="#909090"/>
<circle cx="1814" cy="1353.4" r="6" fill="#0f0"/>
<circle cx="1822" cy="1376.5" r="6" fill="#c0c0c0"/>
<circle cx="1838" cy="1377.4" r="5.2" fill="#d2b48c" stroke="#c0c0c0" stroke-width="1.6"/>
<ellipse cx="1854" cy="1372.4" rx="3.3" ry="2.9" fill="#fff"/>
<ellipse cx="1830" cy="1389.6" rx="3.3" ry="2.9" fill="#fff"/>
<circle cx="1830" cy="1405.5" r="4.8" fill="#909090" stroke="#0f0" stroke-width="2.4"/>
<ellipse cx="1886" cy="1419.3" rx="4.2" ry="3.6" fill="#00f"/>
<path d="M2076.3 1314.6L2077.3 1313.4L2078.3 1313.4L2079.4 1314.6L2079.4 1316.7L2081.4 1316.7L2082.7 1317.7L2082.7 1318.7L2081.4 1319.8L2079.4 1319.8L2079.4 1321.8L2078.3 1323L2077.3 1323L2076.3 1321.8L2076.3 1319.8L2074.2 1319.8L2073 1318.7L2073 1317.7L2074.2 1316.7L2076.3 1316.7Z" fill="#3cb371"/>
<ellipse cx="2046" cy="1438.5" rx="4.2" ry="3.6" fill="#00f"/>
<circle cx="2014" cy="1485.6" r="5.2" fill="#d2b48c" stroke="#c0c0c0" stroke-width="1.6"/>
<ellipse cx="2006" cy="1517.3" rx="3.1" ry="2.5" fill="#909090"/>
<circle cx="2118" cy="1238.4" r="6" fill="#f4a460"/>
<circle cx="2118" cy="1246.5" r="4.6" fill="#fff" stroke="#f00" stroke-width="2.8"/>
<circle cx="2134" cy="1223.4" r="6" fill="#f00"/>
<ellipse cx="2150" cy="1143.5" rx="3.3" ry="2.9" fill="#fff"/>
<ellipse cx="2190" cy="1106.6" rx="3.3" ry="2.9" fill="#fff"/>
<ellipse cx="2206" cy="1112.5" rx="3.3" ry="2.9" fill="#fff"/>
<circle cx="2222" cy="1084" r="6" fill="#f4a460"/>
<circle cx="2222" cy="1091.8" r="4.6" fill="#fff" stroke="#f00" stroke-width="2.8"/>
<ellipse cx="2246" cy="1091.4" rx="4.2" ry="3.6" fill="#00f"/>
<circle cx="2302" cy="984.4" r="6" fill="#c0c0c0"/>
<path d="M1.5 997.3H71.5L79.3 1005.6L71.5 1013.9H1.5Z" fill="#0f0"/>
<text x="70.5" y="1011.8" text-anchor="end" style="font-weight:bold;font-size:16px;fill:#000">4.707,09</text>
<path d="M2418.9 997.3H2349.3L2341.2 1005.6L2349.3 1013.9H2418.9Z" fill="#0f0"/>
<text x="2350.4" y="1011.8" style="font-weight:bold;font-size:16px;fill:#000">4.707,09</text>
<text x="1282.6" y="1569.5" textLength="287.6" lengthAdjust="spacingAndGlyphs" style="font-weight:bold;font-style:italic;font-size:51px;fill:#ff0;stroke:#ff0;stroke-width:2px;stroke-linejoin:round">Psychator</text>
<text x="1224.2" y="1645.8" textLength="352" lengthAdjust="spacingAndGlyphs" style="font-weight:bold;font-style:italic;font-size:29.6px;fill:#ff0;stroke:#ff0;stroke-width:1.1px;stroke-linejoin:round">S&amp;P 500 Index (Tag)</text>
<rect x="79.8" y="3" width="1.45" height="1851.2" fill="#ff0"/><rect x="2338.95" y="3" width="1.35" height="1851.2" fill="#ff0"/>
<path d="M81 1836.5H2339.9" stroke="#ff0" stroke-width="1.2" fill="none"/>
<text class="lb" x="111" y="1855.3">Dez</text>
<text class="lb" x="279.1" y="1855.3">2023</text>
<text class="lb" x="439.1" y="1855.3">Feb</text>
<text class="lb" x="591.1" y="1855.3">Mrz</text>
<text class="lb" x="855.1" y="1855.3">Apr</text>
<text class="lb" x="1007.1" y="1855.3">Mai</text>
<text class="lb" x="1183" y="1855.3">Jun</text>
<text class="lb" x="1351" y="1855.3">Jul</text>
<text class="lb" x="1511" y="1855.3">Aug</text>
<text class="lb" x="1695" y="1855.3">Sep</text>
<text class="lb" x="1855" y="1855.3">Okt</text>
<text class="lb" x="2047" y="1855.3">Nov</text>
<text class="lb" x="2239" y="1855.3">Dez</text>
<path d="M109.5 1836.5V1842.9M277.4 1836.5V1858.9M437.4 1836.5V1842.9M589.5 1836.5V1842.9M853.5 1836.5V1842.9M1005.5 1836.5V1842.9M1181.5 1836.5V1842.9M1349.5 1836.5V1842.9M1509.5 1836.5V1842.9M1693.5 1836.5V1842.9M1853.5 1836.5V1842.9M2045.5 1836.5V1842.9M2237.4 1836.5V1842.9" stroke="#ff0" stroke-width="1.15" fill="none"/>
<rect x="0" y="1810.6" width="80" height="43.6" fill="#000"/>
<rect x="1" y="1815" width="76" height="2" fill="#f00"/>
<rect x="1" y="1818" width="76" height="2" fill="#f00"/>
<rect x="1" y="1821" width="76" height="2" fill="#0f0"/>
<rect x="1" y="1824" width="76" height="2" fill="#0f0"/>
<rect x="1" y="1827" width="76" height="2" fill="#0f0"/>
<rect x="1" y="1830" width="76" height="2" fill="#0f0"/>
<rect x="1" y="1833" width="76" height="2" fill="#0f0"/>
<rect x="1" y="1836" width="76" height="2" fill="#0f0"/>
<rect x="1" y="1839" width="76" height="2" fill="#0f0"/>
<rect x="1" y="1842" width="76" height="2" fill="#0f0"/>
<rect x="1" y="1845" width="76" height="2" fill="#0f0"/>
<g fill="#000"><rect x="30.5" y="1815" width="2.3" height="2"/><rect x="36.1" y="1815" width="2.0" height="2"/><rect x="41.1" y="1815" width="1.6" height="2"/><rect x="45.4" y="1815" width="1.7" height="2"/><rect x="54.5" y="1815" width="1.7" height="2"/><rect x="59.2" y="1815" width="2.5" height="2"/><rect x="63.9" y="1815" width="2.6" height="2"/><rect x="69.6" y="1815" width="1.9" height="2"/><rect x="8" y="1815" width="2" height="2"/><rect x="13" y="1815" width="2" height="2"/><rect x="31.2" y="1818" width="2.2" height="2"/><rect x="36.1" y="1818" width="1.7" height="2"/><rect x="40.6" y="1818" width="2.3" height="2"/><rect x="45.8" y="1818" width="2.2" height="2"/><rect x="53.7" y="1818" width="2.4" height="2"/><rect x="64.2" y="1818" width="2.1" height="2"/><rect x="13" y="1818" width="2" height="2"/><rect x="27" y="1818" width="2" height="2"/><rect x="31.4" y="1821" width="1.8" height="2"/><rect x="35.4" y="1821" width="2.3" height="2"/><rect x="46.6" y="1821" width="1.9" height="2"/><rect x="59.2" y="1821" width="2.1" height="2"/><rect x="23" y="1821" width="2" height="2"/><rect x="45.9" y="1824" width="2.3" height="2"/><rect x="54.0" y="1824" width="1.8" height="2"/><rect x="58.4" y="1824" width="2.4" height="2"/><rect x="63.7" y="1824" width="2.0" height="2"/><rect x="8" y="1824" width="2" height="2"/><rect x="40.9" y="1827" width="2.0" height="2"/><rect x="58.6" y="1827" width="1.8" height="2"/><rect x="64.0" y="1827" width="2.2" height="2"/><rect x="68.3" y="1827" width="2.0" height="2"/><rect x="31.2" y="1830" width="2.3" height="2"/><rect x="36.6" y="1830" width="2.4" height="2"/><rect x="53.9" y="1830" width="1.7" height="2"/><rect x="63.4" y="1830" width="1.8" height="2"/><rect x="68.8" y="1830" width="1.7" height="2"/><rect x="8" y="1830" width="2" height="2"/><rect x="13" y="1830" width="2" height="2"/><rect x="23" y="1830" width="2" height="2"/><rect x="31.6" y="1833" width="2.2" height="2"/><rect x="35.7" y="1833" width="1.9" height="2"/><rect x="40.5" y="1833" width="2.4" height="2"/><rect x="54.0" y="1833" width="1.7" height="2"/><rect x="58.8" y="1833" width="1.9" height="2"/><rect x="68.3" y="1833" width="2.6" height="2"/><rect x="13" y="1833" width="2" height="2"/><rect x="27" y="1833" width="2" height="2"/><rect x="31.8" y="1836" width="2.5" height="2"/><rect x="40.9" y="1836" width="1.8" height="2"/><rect x="54.5" y="1836" width="1.9" height="2"/><rect x="59.5" y="1836" width="2.6" height="2"/><rect x="23" y="1836" width="2" height="2"/><rect x="30.3" y="1839" width="1.6" height="2"/><rect x="35.7" y="1839" width="2.3" height="2"/><rect x="46.7" y="1839" width="2.6" height="2"/><rect x="58.6" y="1839" width="1.8" height="2"/><rect x="63.6" y="1839" width="2.2" height="2"/><rect x="31.3" y="1842" width="2.5" height="2"/><rect x="45.6" y="1842" width="2.4" height="2"/><rect x="54.5" y="1842" width="2.6" height="2"/><rect x="58.9" y="1842" width="2.5" height="2"/><rect x="68.5" y="1842" width="1.8" height="2"/><rect x="23" y="1842" width="2" height="2"/><rect x="41.1" y="1845" width="1.7" height="2"/><rect x="46.8" y="1845" width="2.2" height="2"/><rect x="54.7" y="1845" width="2.0" height="2"/><rect x="68.7" y="1845" width="1.9" height="2"/><rect x="8" y="1845" width="2" height="2"/><rect x="23" y="1845" width="2" height="2"/></g>
<path d="M0 1811.3H80M0 1814.3H80M0 1817.3H80M0 1820.3H80M0 1823.3H80M0 1826.3H80M0 1829.3H80M0 1832.3H80M0 1835.3H80M0 1838.3H80M0 1841.3H80M0 1844.3H80M0 1847.3H80M0 1850.3H80M0 1853.3H80" stroke="#e8e8e8" stroke-width="1.15" fill="none"/>
<rect x="2340.5" y="1810.6" width="79.5" height="43.6" fill="#000"/>
<rect x="2341.5" y="1815" width="75.5" height="2" fill="#f00"/>
<rect x="2341.5" y="1818" width="75.5" height="2" fill="#f00"/>
<rect x="2341.5" y="1821" width="75.5" height="2" fill="#0f0"/>
<rect x="2341.5" y="1824" width="75.5" height="2" fill="#0f0"/>
<rect x="2341.5" y="1827" width="75.5" height="2" fill="#0f0"/>
<rect x="2341.5" y="1830" width="75.5" height="2" fill="#0f0"/>
<rect x="2341.5" y="1833" width="75.5" height="2" fill="#0f0"/>
<rect x="2341.5" y="1836" width="75.5" height="2" fill="#0f0"/>
<rect x="2341.5" y="1839" width="75.5" height="2" fill="#0f0"/>
<rect x="2341.5" y="1842" width="75.5" height="2" fill="#0f0"/>
<rect x="2341.5" y="1845" width="75.5" height="2" fill="#0f0"/>
<g fill="#000"><rect x="2371.0" y="1815" width="2.3" height="2"/><rect x="2376.6" y="1815" width="2.0" height="2"/><rect x="2381.6" y="1815" width="1.6" height="2"/><rect x="2385.9" y="1815" width="1.7" height="2"/><rect x="2395.0" y="1815" width="1.7" height="2"/><rect x="2399.7" y="1815" width="2.5" height="2"/><rect x="2404.4" y="1815" width="2.6" height="2"/><rect x="2410.1" y="1815" width="1.9" height="2"/><rect x="2348.5" y="1815" width="2" height="2"/><rect x="2353.5" y="1815" width="2" height="2"/><rect x="2371.7" y="1818" width="2.2" height="2"/><rect x="2376.6" y="1818" width="1.7" height="2"/><rect x="2381.1" y="1818" width="2.3" height="2"/><rect x="2386.3" y="1818" width="2.2" height="2"/><rect x="2394.2" y="1818" width="2.4" height="2"/><rect x="2404.7" y="1818" width="2.1" height="2"/><rect x="2353.5" y="1818" width="2" height="2"/><rect x="2367.5" y="1818" width="2" height="2"/><rect x="2371.9" y="1821" width="1.8" height="2"/><rect x="2375.9" y="1821" width="2.3" height="2"/><rect x="2387.1" y="1821" width="1.9" height="2"/><rect x="2399.7" y="1821" width="2.1" height="2"/><rect x="2363.5" y="1821" width="2" height="2"/><rect x="2386.4" y="1824" width="2.3" height="2"/><rect x="2394.5" y="1824" width="1.8" height="2"/><rect x="2398.9" y="1824" width="2.4" height="2"/><rect x="2404.2" y="1824" width="2.0" height="2"/><rect x="2348.5" y="1824" width="2" height="2"/><rect x="2381.4" y="1827" width="2.0" height="2"/><rect x="2399.1" y="1827" width="1.8" height="2"/><rect x="2404.5" y="1827" width="2.2" height="2"/><rect x="2408.8" y="1827" width="2.0" height="2"/><rect x="2371.7" y="1830" width="2.3" height="2"/><rect x="2377.1" y="1830" width="2.4" height="2"/><rect x="2394.4" y="1830" width="1.7" height="2"/><rect x="2403.9" y="1830" width="1.8" height="2"/><rect x="2409.3" y="1830" width="1.7" height="2"/><rect x="2348.5" y="1830" width="2" height="2"/><rect x="2353.5" y="1830" width="2" height="2"/><rect x="2363.5" y="1830" width="2" height="2"/><rect x="2372.1" y="1833" width="2.2" height="2"/><rect x="2376.2" y="1833" width="1.9" height="2"/><rect x="2381.0" y="1833" width="2.4" height="2"/><rect x="2394.5" y="1833" width="1.7" height="2"/><rect x="2399.3" y="1833" width="1.9" height="2"/><rect x="2408.8" y="1833" width="2.6" height="2"/><rect x="2353.5" y="1833" width="2" height="2"/><rect x="2367.5" y="1833" width="2" height="2"/><rect x="2372.3" y="1836" width="2.5" height="2"/><rect x="2381.4" y="1836" width="1.8" height="2"/><rect x="2395.0" y="1836" width="1.9" height="2"/><rect x="2400.0" y="1836" width="2.6" height="2"/><rect x="2363.5" y="1836" width="2" height="2"/><rect x="2370.8" y="1839" width="1.6" height="2"/><rect x="2376.2" y="1839" width="2.3" height="2"/><rect x="2387.2" y="1839" width="2.6" height="2"/><rect x="2399.1" y="1839" width="1.8" height="2"/><rect x="2404.1" y="1839" width="2.2" height="2"/><rect x="2371.8" y="1842" width="2.5" height="2"/><rect x="2386.1" y="1842" width="2.4" height="2"/><rect x="2395.0" y="1842" width="2.6" height="2"/><rect x="2399.4" y="1842" width="2.5" height="2"/><rect x="2409.0" y="1842" width="1.8" height="2"/><rect x="2363.5" y="1842" width="2" height="2"/><rect x="2381.6" y="1845" width="1.7" height="2"/><rect x="2387.3" y="1845" width="2.2" height="2"/><rect x="2395.2" y="1845" width="2.0" height="2"/><rect x="2409.2" y="1845" width="1.9" height="2"/><rect x="2348.5" y="1845" width="2" height="2"/><rect x="2363.5" y="1845" width="2" height="2"/></g>
<path d="M2340.5 1811.3H2420M2340.5 1814.3H2420M2340.5 1817.3H2420M2340.5 1820.3H2420M2340.5 1823.3H2420M2340.5 1826.3H2420M2340.5 1829.3H2420M2340.5 1832.3H2420M2340.5 1835.3H2420M2340.5 1838.3H2420M2340.5 1841.3H2420M2340.5 1844.3H2420M2340.5 1847.3H2420M2340.5 1850.3H2420M2340.5 1853.3H2420" stroke="#e8e8e8" stroke-width="1.15" fill="none"/>
<rect x="79.8" y="1809" width="1.45" height="45.2" fill="#ff0"/><rect x="2338.95" y="1809" width="1.35" height="45.2" fill="#ff0"/>
<rect x="0" y="0" width="2420" height="2.9" fill="#fff"/>
<rect x="0" y="287.2" width="2420" height="2.3" fill="#fff"/><rect x="0" y="289.5" width="2420" height="0.9" fill="#b4b4b4"/><rect x="0" y="290.4" width="2420" height="0.8" fill="#5c5c5c"/>
<rect x="0" y="608.0" width="2420" height="2.3" fill="#fff"/><rect x="0" y="610.3" width="2420" height="0.9" fill="#b4b4b4"/><rect x="0" y="611.2" width="2420" height="0.8" fill="#5c5c5c"/>
<rect x="0" y="950.8" width="2420" height="2.3" fill="#fff"/><rect x="0" y="953.0999999999999" width="2420" height="0.9" fill="#b4b4b4"/><rect x="0" y="954.0" width="2420" height="0.8" fill="#5c5c5c"/>
<rect x="2419.7" y="0" width="5.6" height="1879" fill="#fff"/>
<rect x="2425.2" y="0" width="1" height="1879" fill="#151515"/>
<rect x="2426.1" y="0" width="17" height="1879" fill="#ababab"/>
<rect x="0" y="1859" width="2419.8" height="20" fill="#f0f0f0"/>
<rect x="0" y="1859" width="2419.8" height="1.3" fill="#fff"/>
<rect x="396.3" y="1860.3" width="1997.7" height="18.7" fill="#cdcdcd"/>
<path d="M16.6 1867.3L8.6 1872.7L16.6 1878.1" stroke="#5a5a5a" stroke-width="2.3" fill="none"/>
<path d="M2401.4 1867.3L2409.4 1872.7L2401.4 1878.1" stroke="#5a5a5a" stroke-width="2.3" fill="none"/>
<path d="M2376 35.9L2384.9 29.1L2392 34.7L2406.7 21.3" stroke="#5576b0" stroke-width="1.25" fill="none"/>
<path d="M2375.2 42.6L2384.85 35.3V39H2391V46.2H2384.85V50Z" fill="#45ad75"/>
<path d="M2408 42.6L2397.9 35.3V39H2392V46.2H2397.9V50Z" fill="#e8735a"/>
</svg></body></html>
